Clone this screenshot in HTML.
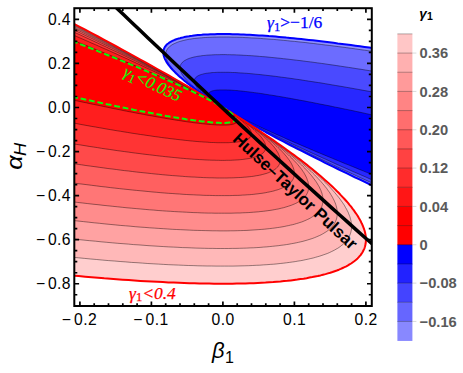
<!DOCTYPE html>
<html><head><meta charset="utf-8"><title>plot</title>
<style>html,body{margin:0;padding:0;background:#fff;}body{width:463px;height:373px;position:relative;overflow:hidden;font-family:"Liberation Sans",sans-serif;}</style>
</head><body>
<svg width="463" height="373" viewBox="0 0 463 373" style="position:absolute;left:0;top:0;font-family:'Liberation Sans',sans-serif">
<defs><clipPath id="pc"><rect x="74.3" y="8.2" width="297.5" height="297.8"/></clipPath></defs>
<rect x="0" y="0" width="463" height="373" fill="#fff"/>
<g clip-path="url(#pc)">
<path d="M72.2 275.5 L78.7 276.1 L85.2 276.7 L91.6 277.2 L98.0 277.7 L104.2 278.3 L110.4 278.7 L116.5 279.2 L122.6 279.7 L128.6 280.1 L134.5 280.5 L140.3 280.9 L146.0 281.2 L151.7 281.5 L157.3 281.8 L162.8 282.1 L168.3 282.4 L173.7 282.6 L179.0 282.8 L184.2 283.0 L189.3 283.2 L194.4 283.3 L199.4 283.5 L204.4 283.6 L209.2 283.6 L214.0 283.7 L218.7 283.7 L223.3 283.7 L227.9 283.7 L232.4 283.7 L236.8 283.6 L241.1 283.5 L245.4 283.4 L249.6 283.3 L253.7 283.2 L257.8 283.0 L261.7 282.8 L265.6 282.6 L269.4 282.3 L273.2 282.1 L276.9 281.8 L280.5 281.5 L284.0 281.1 L287.4 280.8 L290.8 280.4 L294.1 280.0 L297.3 279.6 L300.5 279.1 L303.6 278.7 L306.6 278.2 L309.5 277.6 L312.4 277.1 L315.1 276.5 L317.8 276.0 L320.5 275.4 L323.0 274.7 L325.5 274.1 L327.9 273.4 L330.3 272.7 L332.5 272.0 L334.7 271.2 L336.8 270.5 L338.9 269.7 L340.8 268.9 L342.7 268.0 L344.5 267.2 L346.3 266.3 L348.0 265.4 L349.5 264.4 L351.1 263.5 L352.5 262.5 L353.9 261.5 L355.2 260.5 L356.4 259.5 L357.6 258.4 L358.6 257.3 L359.6 256.2 L360.6 255.1 L361.4 253.9 L362.2 252.7 L362.9 251.5 L363.5 250.3 L364.1 249.1 L364.6 247.8 L365.0 246.5 L365.3 245.2 L365.6 243.8 L365.8 242.5 L365.9 241.1 L365.9 239.7 L365.9 238.2 L365.8 236.8 L365.6 235.3 L365.3 233.8 L365.0 232.3 L364.6 230.8 L364.1 229.2 L363.5 227.6 L362.9 226.0 L362.2 224.3 L361.4 222.7 L360.6 221.0 L359.6 219.3 L358.6 217.6 L357.6 215.8 L356.4 214.0 L355.2 212.3 L353.9 210.4 L352.5 208.6 L351.1 206.7 L349.5 204.8 L348.0 202.9 L346.3 201.0 L344.5 199.0 L342.7 197.1 L340.8 195.1 L338.9 193.0 L336.8 191.0 L334.7 188.9 L332.5 186.8 L330.3 184.7 L327.9 182.6 L325.5 180.4 L323.0 178.2 L320.5 176.0 L317.8 173.8 L315.1 171.5 L312.4 169.3 L309.5 167.0 L306.6 164.6 L303.6 162.3 L300.5 159.9 L297.3 157.5 L294.1 155.1 L290.8 152.7 L287.4 150.2 L284.0 147.7 L280.5 145.2 L276.9 142.7 L273.2 140.2 L269.4 137.6 L265.6 135.0 L261.7 132.4 L257.8 129.7 L253.7 127.1 L249.6 124.4 L245.4 121.7 L241.1 118.9 L236.8 116.2 L232.4 113.4 L227.9 110.6 L223.3 107.8 L218.7 104.9 L214.0 102.1 L209.2 99.2 L204.4 96.2 L199.4 93.3 L194.4 90.3 L189.3 87.4 L184.2 84.4 L179.0 81.3 L173.7 78.3 L168.3 75.2 L162.8 72.1 L157.3 69.0 L151.7 65.8 L146.0 62.7 L140.3 59.5 L134.5 56.3 L128.6 53.0 L122.6 49.8 L116.5 46.5 L110.4 43.2 L104.2 39.9 L98.0 36.5 L91.6 33.1 L85.2 29.7 L78.7 26.3 L72.2 22.9Z" fill="rgb(255,206,206)"/>
<path d="M72.2 257.2 L78.4 257.8 L84.6 258.4 L90.7 259.0 L96.7 259.5 L102.7 260.1 L108.6 260.6 L114.4 261.0 L120.1 261.5 L125.8 261.9 L131.4 262.4 L137.0 262.7 L142.4 263.1 L147.8 263.5 L153.2 263.8 L158.4 264.1 L163.6 264.4 L168.7 264.7 L173.8 264.9 L178.7 265.1 L183.6 265.3 L188.5 265.5 L193.2 265.6 L197.9 265.8 L202.5 265.9 L207.1 266.0 L211.6 266.0 L216.0 266.1 L220.3 266.1 L224.6 266.1 L228.8 266.1 L232.9 266.1 L237.0 266.0 L241.0 265.9 L244.9 265.8 L248.7 265.7 L252.5 265.5 L256.2 265.3 L259.8 265.2 L263.4 264.9 L266.9 264.7 L270.3 264.4 L273.7 264.2 L276.9 263.9 L280.2 263.5 L283.3 263.2 L286.4 262.8 L289.4 262.4 L292.3 262.0 L295.2 261.6 L297.9 261.1 L300.7 260.7 L303.3 260.2 L305.9 259.6 L308.4 259.1 L310.8 258.5 L313.2 258.0 L315.5 257.3 L317.7 256.7 L319.8 256.1 L321.9 255.4 L323.9 254.7 L325.9 254.0 L327.8 253.3 L329.6 252.5 L331.3 251.7 L332.9 250.9 L334.5 250.1 L336.0 249.2 L337.5 248.4 L338.9 247.5 L340.2 246.6 L341.4 245.6 L342.6 244.7 L343.7 243.7 L344.7 242.7 L345.6 241.7 L346.5 240.7 L347.3 239.6 L348.1 238.5 L348.7 237.4 L349.3 236.3 L349.9 235.1 L350.3 233.9 L350.7 232.8 L351.0 231.5 L351.3 230.3 L351.5 229.0 L351.6 227.8 L351.6 226.5 L351.6 225.1 L351.5 223.8 L351.3 222.4 L351.0 221.0 L350.7 219.6 L350.3 218.2 L349.9 216.7 L349.3 215.3 L348.7 213.8 L348.1 212.2 L347.3 210.7 L346.5 209.1 L345.6 207.6 L344.7 205.9 L343.7 204.3 L342.6 202.7 L341.4 201.0 L340.2 199.3 L338.9 197.6 L337.5 195.9 L336.0 194.1 L334.5 192.3 L332.9 190.5 L331.3 188.7 L329.6 186.8 L327.8 185.0 L325.9 183.1 L323.9 181.2 L321.9 179.2 L319.8 177.3 L317.7 175.3 L315.5 173.3 L313.2 171.3 L310.8 169.3 L308.4 167.2 L305.9 165.1 L303.3 163.0 L300.7 160.9 L297.9 158.7 L295.2 156.5 L292.3 154.4 L289.4 152.1 L286.4 149.9 L283.3 147.6 L280.2 145.4 L276.9 143.1 L273.7 140.7 L270.3 138.4 L266.9 136.0 L263.4 133.6 L259.8 131.2 L256.2 128.8 L252.5 126.3 L248.7 123.9 L244.9 121.4 L241.0 118.8 L237.0 116.3 L232.9 113.7 L228.8 111.2 L224.6 108.5 L220.3 105.9 L216.0 103.3 L211.6 100.6 L207.1 97.9 L202.5 95.2 L197.9 92.5 L193.2 89.7 L188.5 86.9 L183.6 84.1 L178.7 81.3 L173.8 78.4 L168.7 75.6 L163.6 72.7 L158.4 69.8 L153.2 66.8 L147.8 63.9 L142.4 60.9 L137.0 57.9 L131.4 54.9 L125.8 51.8 L120.1 48.8 L114.4 45.7 L108.6 42.6 L102.7 39.5 L96.7 36.3 L90.7 33.1 L84.6 30.0 L78.4 26.7 L72.2 23.5Z" fill="rgb(255,184,184)"/>
<path d="M72.2 238.9 L78.1 239.5 L83.9 240.1 L89.7 240.7 L95.5 241.2 L101.1 241.8 L106.7 242.3 L112.2 242.8 L117.7 243.3 L123.1 243.7 L128.4 244.1 L133.6 244.6 L138.8 244.9 L144.0 245.3 L149.0 245.7 L154.0 246.0 L158.9 246.3 L163.8 246.6 L168.6 246.9 L173.3 247.1 L177.9 247.3 L182.5 247.6 L187.0 247.7 L191.5 247.9 L195.9 248.1 L200.2 248.2 L204.4 248.3 L208.6 248.4 L212.7 248.4 L216.8 248.5 L220.8 248.5 L224.7 248.5 L228.5 248.5 L232.3 248.4 L236.0 248.4 L239.7 248.3 L243.3 248.2 L246.8 248.1 L250.2 247.9 L253.6 247.8 L256.9 247.6 L260.2 247.4 L263.4 247.1 L266.5 246.9 L269.5 246.6 L272.5 246.3 L275.4 246.0 L278.3 245.7 L281.0 245.3 L283.7 245.0 L286.4 244.6 L289.0 244.2 L291.5 243.7 L293.9 243.3 L296.3 242.8 L298.6 242.3 L300.8 241.8 L303.0 241.3 L305.1 240.7 L307.2 240.1 L309.1 239.5 L311.1 238.9 L312.9 238.3 L314.7 237.6 L316.4 236.9 L318.0 236.2 L319.6 235.5 L321.1 234.8 L322.5 234.0 L323.9 233.2 L325.2 232.4 L326.5 231.6 L327.6 230.8 L328.7 229.9 L329.8 229.0 L330.7 228.1 L331.6 227.2 L332.5 226.2 L333.2 225.3 L334.0 224.3 L334.6 223.3 L335.2 222.2 L335.7 221.2 L336.1 220.1 L336.5 219.0 L336.8 217.9 L337.0 216.8 L337.2 215.6 L337.3 214.4 L337.3 213.2 L337.3 212.0 L337.2 210.8 L337.0 209.5 L336.8 208.3 L336.5 207.0 L336.1 205.6 L335.7 204.3 L335.2 202.9 L334.6 201.6 L334.0 200.2 L333.2 198.7 L332.5 197.3 L331.6 195.8 L330.7 194.3 L329.8 192.8 L328.7 191.3 L327.6 189.8 L326.5 188.2 L325.2 186.6 L323.9 185.0 L322.5 183.4 L321.1 181.7 L319.6 180.1 L318.0 178.4 L316.4 176.7 L314.7 174.9 L312.9 173.2 L311.1 171.4 L309.1 169.6 L307.2 167.8 L305.1 166.0 L303.0 164.1 L300.8 162.2 L298.6 160.3 L296.3 158.4 L293.9 156.5 L291.5 154.5 L289.0 152.5 L286.4 150.5 L283.7 148.5 L281.0 146.5 L278.3 144.4 L275.4 142.3 L272.5 140.2 L269.5 138.1 L266.5 135.9 L263.4 133.8 L260.2 131.6 L256.9 129.4 L253.6 127.2 L250.2 124.9 L246.8 122.7 L243.3 120.4 L239.7 118.1 L236.0 115.7 L232.3 113.4 L228.5 111.0 L224.7 108.6 L220.8 106.2 L216.8 103.8 L212.7 101.3 L208.6 98.8 L204.4 96.3 L200.2 93.8 L195.9 91.3 L191.5 88.7 L187.0 86.2 L182.5 83.6 L177.9 80.9 L173.3 78.3 L168.6 75.6 L163.8 73.0 L158.9 70.3 L154.0 67.5 L149.0 64.8 L144.0 62.0 L138.8 59.2 L133.6 56.4 L128.4 53.6 L123.1 50.8 L117.7 47.9 L112.2 45.0 L106.7 42.1 L101.1 39.2 L95.5 36.2 L89.7 33.3 L83.9 30.3 L78.1 27.3 L72.2 24.2Z" fill="rgb(255,162,162)"/>
<path d="M72.2 220.4 L77.8 221.0 L83.3 221.6 L88.8 222.2 L94.2 222.8 L99.5 223.3 L104.8 223.9 L110.1 224.4 L115.2 224.9 L120.3 225.4 L125.4 225.8 L130.3 226.2 L135.2 226.7 L140.1 227.1 L144.9 227.4 L149.6 227.8 L154.2 228.1 L158.8 228.4 L163.4 228.7 L167.8 229.0 L172.2 229.3 L176.6 229.5 L180.8 229.7 L185.1 229.9 L189.2 230.1 L193.3 230.3 L197.3 230.4 L201.3 230.5 L205.2 230.6 L209.0 230.7 L212.8 230.8 L216.5 230.8 L220.1 230.9 L223.7 230.9 L227.2 230.9 L230.7 230.8 L234.0 230.8 L237.4 230.7 L240.6 230.6 L243.8 230.5 L247.0 230.4 L250.0 230.2 L253.0 230.0 L256.0 229.8 L258.9 229.6 L261.7 229.4 L264.4 229.2 L267.1 228.9 L269.8 228.6 L272.3 228.3 L274.8 228.0 L277.3 227.6 L279.6 227.3 L282.0 226.9 L284.2 226.5 L286.4 226.0 L288.5 225.6 L290.6 225.1 L292.6 224.7 L294.5 224.2 L296.4 223.6 L298.2 223.1 L299.9 222.5 L301.6 222.0 L303.2 221.4 L304.8 220.7 L306.2 220.1 L307.7 219.4 L309.0 218.8 L310.3 218.1 L311.6 217.3 L312.7 216.6 L313.8 215.9 L314.9 215.1 L315.9 214.3 L316.8 213.5 L317.6 212.6 L318.4 211.8 L319.2 210.9 L319.8 210.0 L320.4 209.1 L321.0 208.2 L321.4 207.2 L321.9 206.3 L322.2 205.3 L322.5 204.3 L322.7 203.2 L322.9 202.2 L323.0 201.1 L323.0 200.0 L323.0 198.9 L322.9 197.8 L322.7 196.6 L322.5 195.5 L322.2 194.3 L321.9 193.1 L321.4 191.9 L321.0 190.6 L320.4 189.4 L319.8 188.1 L319.2 186.8 L318.4 185.5 L317.6 184.1 L316.8 182.8 L315.9 181.4 L314.9 180.0 L313.8 178.6 L312.7 177.1 L311.6 175.7 L310.3 174.2 L309.0 172.7 L307.7 171.2 L306.2 169.6 L304.8 168.1 L303.2 166.5 L301.6 164.9 L299.9 163.3 L298.2 161.7 L296.4 160.0 L294.5 158.3 L292.6 156.6 L290.6 154.9 L288.5 153.2 L286.4 151.4 L284.2 149.7 L282.0 147.9 L279.6 146.1 L277.3 144.2 L274.8 142.4 L272.3 140.5 L269.8 138.6 L267.1 136.7 L264.4 134.8 L261.7 132.9 L258.9 130.9 L256.0 128.9 L253.0 126.9 L250.0 124.9 L247.0 122.8 L243.8 120.8 L240.6 118.7 L237.4 116.6 L234.0 114.5 L230.7 112.3 L227.2 110.2 L223.7 108.0 L220.1 105.8 L216.5 103.6 L212.8 101.3 L209.0 99.1 L205.2 96.8 L201.3 94.5 L197.3 92.2 L193.3 89.8 L189.2 87.5 L185.1 85.1 L180.8 82.7 L176.6 80.3 L172.2 77.9 L167.8 75.4 L163.4 72.9 L158.8 70.4 L154.2 67.9 L149.6 65.4 L144.9 62.9 L140.1 60.3 L135.2 57.7 L130.3 55.1 L125.4 52.5 L120.3 49.8 L115.2 47.1 L110.1 44.5 L104.8 41.7 L99.5 39.0 L94.2 36.3 L88.8 33.5 L83.3 30.7 L77.8 27.9 L72.2 25.1Z" fill="rgb(255,140,140)"/>
<path d="M72.2 201.7 L77.4 202.4 L82.7 203.0 L87.8 203.6 L92.9 204.2 L98.0 204.7 L103.0 205.3 L107.9 205.8 L112.8 206.3 L117.6 206.8 L122.3 207.3 L127.0 207.8 L131.6 208.2 L136.2 208.6 L140.7 209.0 L145.2 209.4 L149.6 209.8 L153.9 210.1 L158.2 210.5 L162.4 210.8 L166.5 211.1 L170.6 211.3 L174.6 211.6 L178.6 211.8 L182.5 212.0 L186.4 212.2 L190.2 212.4 L193.9 212.6 L197.6 212.7 L201.2 212.9 L204.7 213.0 L208.2 213.1 L211.7 213.1 L215.0 213.2 L218.4 213.2 L221.6 213.2 L224.8 213.2 L228.0 213.2 L231.0 213.2 L234.0 213.1 L237.0 213.0 L239.9 213.0 L242.7 212.8 L245.5 212.7 L248.2 212.6 L250.9 212.4 L253.5 212.2 L256.0 212.0 L258.5 211.8 L260.9 211.5 L263.3 211.3 L265.6 211.0 L267.8 210.7 L270.0 210.4 L272.1 210.1 L274.2 209.7 L276.2 209.3 L278.1 209.0 L280.0 208.5 L281.8 208.1 L283.6 207.7 L285.3 207.2 L286.9 206.7 L288.5 206.2 L290.0 205.7 L291.5 205.2 L292.9 204.6 L294.2 204.1 L295.5 203.5 L296.8 202.9 L297.9 202.2 L299.0 201.6 L300.1 200.9 L301.1 200.2 L302.0 199.5 L302.8 198.8 L303.7 198.1 L304.4 197.3 L305.1 196.5 L305.7 195.8 L306.3 194.9 L306.8 194.1 L307.2 193.3 L307.6 192.4 L308.0 191.5 L308.2 190.6 L308.4 189.7 L308.6 188.7 L308.7 187.8 L308.7 186.8 L308.7 185.8 L308.6 184.8 L308.4 183.8 L308.2 182.7 L308.0 181.6 L307.6 180.6 L307.2 179.5 L306.8 178.3 L306.3 177.2 L305.7 176.0 L305.1 174.8 L304.4 173.6 L303.7 172.4 L302.8 171.2 L302.0 169.9 L301.1 168.7 L300.1 167.4 L299.0 166.1 L297.9 164.7 L296.8 163.4 L295.5 162.0 L294.2 160.7 L292.9 159.3 L291.5 157.8 L290.0 156.4 L288.5 154.9 L286.9 153.5 L285.3 152.0 L283.6 150.5 L281.8 148.9 L280.0 147.4 L278.1 145.8 L276.2 144.2 L274.2 142.6 L272.1 141.0 L270.0 139.4 L267.8 137.7 L265.6 136.0 L263.3 134.3 L260.9 132.6 L258.5 130.9 L256.0 129.1 L253.5 127.4 L250.9 125.6 L248.2 123.8 L245.5 122.0 L242.7 120.1 L239.9 118.3 L237.0 116.4 L234.0 114.5 L231.0 112.6 L228.0 110.6 L224.8 108.7 L221.6 106.7 L218.4 104.7 L215.0 102.7 L211.7 100.7 L208.2 98.6 L204.7 96.6 L201.2 94.5 L197.6 92.4 L193.9 90.3 L190.2 88.1 L186.4 86.0 L182.5 83.8 L178.6 81.6 L174.6 79.4 L170.6 77.2 L166.5 74.9 L162.4 72.7 L158.2 70.4 L153.9 68.1 L149.6 65.8 L145.2 63.4 L140.7 61.1 L136.2 58.7 L131.6 56.3 L127.0 53.9 L122.3 51.5 L117.6 49.0 L112.8 46.5 L107.9 44.1 L103.0 41.6 L98.0 39.0 L92.9 36.5 L87.8 33.9 L82.7 31.3 L77.4 28.8 L72.2 26.1Z" fill="rgb(255,118,118)"/>
<path d="M72.2 182.8 L77.1 183.5 L82.0 184.1 L86.9 184.7 L91.7 185.3 L96.4 185.9 L101.1 186.5 L105.7 187.0 L110.3 187.6 L114.8 188.1 L119.3 188.6 L123.7 189.1 L128.0 189.5 L132.3 190.0 L136.6 190.4 L140.8 190.8 L144.9 191.2 L148.9 191.6 L153.0 192.0 L156.9 192.3 L160.8 192.7 L164.7 193.0 L168.4 193.3 L172.2 193.5 L175.9 193.8 L179.5 194.0 L183.0 194.3 L186.5 194.5 L190.0 194.7 L193.4 194.8 L196.7 195.0 L200.0 195.1 L203.2 195.3 L206.4 195.4 L209.5 195.4 L212.6 195.5 L215.6 195.6 L218.5 195.6 L221.4 195.6 L224.3 195.6 L227.0 195.6 L229.8 195.6 L232.4 195.5 L235.0 195.4 L237.6 195.4 L240.1 195.3 L242.5 195.1 L244.9 195.0 L247.2 194.8 L249.5 194.7 L251.7 194.5 L253.9 194.3 L256.0 194.0 L258.0 193.8 L260.0 193.5 L262.0 193.3 L263.8 193.0 L265.7 192.7 L267.4 192.3 L269.1 192.0 L270.8 191.6 L272.4 191.3 L273.9 190.9 L275.4 190.4 L276.9 190.0 L278.2 189.6 L279.6 189.1 L280.8 188.6 L282.0 188.1 L283.2 187.6 L284.3 187.1 L285.3 186.5 L286.3 185.9 L287.2 185.3 L288.1 184.7 L288.9 184.1 L289.7 183.5 L290.4 182.8 L291.0 182.1 L291.6 181.5 L292.1 180.7 L292.6 180.0 L293.0 179.3 L293.4 178.5 L293.7 177.7 L294.0 176.9 L294.1 176.1 L294.3 175.3 L294.4 174.5 L294.4 173.6 L294.4 172.7 L294.3 171.8 L294.1 170.9 L294.0 170.0 L293.7 169.0 L293.4 168.0 L293.0 167.1 L292.6 166.1 L292.1 165.0 L291.6 164.0 L291.0 162.9 L290.4 161.9 L289.7 160.8 L288.9 159.7 L288.1 158.6 L287.2 157.4 L286.3 156.3 L285.3 155.1 L284.3 153.9 L283.2 152.7 L282.0 151.4 L280.8 150.2 L279.6 148.9 L278.2 147.7 L276.9 146.4 L275.4 145.1 L273.9 143.7 L272.4 142.4 L270.8 141.0 L269.1 139.6 L267.4 138.2 L265.7 136.8 L263.8 135.4 L262.0 133.9 L260.0 132.5 L258.0 131.0 L256.0 129.5 L253.9 127.9 L251.7 126.4 L249.5 124.8 L247.2 123.3 L244.9 121.7 L242.5 120.1 L240.1 118.5 L237.6 116.8 L235.0 115.1 L232.4 113.5 L229.8 111.8 L227.0 110.1 L224.3 108.3 L221.4 106.6 L218.5 104.8 L215.6 103.0 L212.6 101.2 L209.5 99.4 L206.4 97.6 L203.2 95.8 L200.0 93.9 L196.7 92.0 L193.4 90.1 L190.0 88.2 L186.5 86.2 L183.0 84.3 L179.5 82.3 L175.9 80.3 L172.2 78.3 L168.4 76.3 L164.7 74.3 L160.8 72.2 L156.9 70.1 L153.0 68.0 L148.9 65.9 L144.9 63.8 L140.8 61.7 L136.6 59.5 L132.3 57.3 L128.0 55.1 L123.7 52.9 L119.3 50.7 L114.8 48.4 L110.3 46.2 L105.7 43.9 L101.1 41.6 L96.4 39.3 L91.7 36.9 L86.9 34.6 L82.0 32.2 L77.1 29.8 L72.2 27.4Z" fill="rgb(255,96,96)"/>
<path d="M72.2 163.5 L76.8 164.2 L81.4 164.8 L85.9 165.5 L90.4 166.1 L94.9 166.7 L99.2 167.3 L103.6 167.9 L107.9 168.5 L112.1 169.0 L116.3 169.5 L120.4 170.1 L124.4 170.6 L128.5 171.0 L132.4 171.5 L136.3 172.0 L140.2 172.4 L144.0 172.8 L147.8 173.2 L151.5 173.6 L155.1 174.0 L158.7 174.3 L162.3 174.7 L165.7 175.0 L169.2 175.3 L172.6 175.6 L175.9 175.8 L179.2 176.1 L182.4 176.3 L185.6 176.6 L188.7 176.8 L191.8 177.0 L194.8 177.1 L197.8 177.3 L200.7 177.4 L203.5 177.6 L206.4 177.7 L209.1 177.8 L211.8 177.8 L214.5 177.9 L217.1 178.0 L219.6 178.0 L222.1 178.0 L224.5 178.0 L226.9 178.0 L229.3 177.9 L231.6 177.9 L233.8 177.8 L236.0 177.7 L238.1 177.6 L240.2 177.5 L242.2 177.4 L244.2 177.2 L246.1 177.1 L247.9 176.9 L249.8 176.7 L251.5 176.5 L253.2 176.3 L254.9 176.0 L256.5 175.7 L258.0 175.5 L259.5 175.2 L261.0 174.9 L262.4 174.5 L263.7 174.2 L265.0 173.8 L266.2 173.5 L267.4 173.1 L268.5 172.7 L269.6 172.2 L270.6 171.8 L271.6 171.3 L272.5 170.9 L273.4 170.4 L274.2 169.9 L275.0 169.4 L275.7 168.8 L276.3 168.3 L276.9 167.7 L277.5 167.1 L278.0 166.5 L278.4 165.9 L278.8 165.3 L279.2 164.6 L279.4 163.9 L279.7 163.3 L279.9 162.6 L280.0 161.8 L280.1 161.1 L280.1 160.4 L280.1 159.6 L280.0 158.8 L279.9 158.0 L279.7 157.2 L279.4 156.4 L279.2 155.6 L278.8 154.7 L278.4 153.8 L278.0 152.9 L277.5 152.0 L276.9 151.1 L276.3 150.1 L275.7 149.2 L275.0 148.2 L274.2 147.2 L273.4 146.2 L272.5 145.2 L271.6 144.2 L270.6 143.1 L269.6 142.0 L268.5 140.9 L267.4 139.8 L266.2 138.7 L265.0 137.6 L263.7 136.4 L262.4 135.3 L261.0 134.1 L259.5 132.9 L258.0 131.7 L256.5 130.4 L254.9 129.2 L253.2 127.9 L251.5 126.6 L249.8 125.3 L247.9 124.0 L246.1 122.7 L244.2 121.4 L242.2 120.0 L240.2 118.6 L238.1 117.2 L236.0 115.8 L233.8 114.4 L231.6 112.9 L229.3 111.5 L226.9 110.0 L224.5 108.5 L222.1 107.0 L219.6 105.5 L217.1 103.9 L214.5 102.4 L211.8 100.8 L209.1 99.2 L206.4 97.6 L203.5 96.0 L200.7 94.4 L197.8 92.7 L194.8 91.0 L191.8 89.4 L188.7 87.7 L185.6 85.9 L182.4 84.2 L179.2 82.5 L175.9 80.7 L172.6 78.9 L169.2 77.1 L165.7 75.3 L162.3 73.5 L158.7 71.6 L155.1 69.8 L151.5 67.9 L147.8 66.0 L144.0 64.1 L140.2 62.1 L136.3 60.2 L132.4 58.2 L128.5 56.3 L124.4 54.3 L120.4 52.3 L116.3 50.2 L112.1 48.2 L107.9 46.1 L103.6 44.1 L99.2 42.0 L94.9 39.9 L90.4 37.7 L85.9 35.6 L81.4 33.5 L76.8 31.3 L72.2 29.1Z" fill="rgb(255,74,74)"/>
<path d="M72.2 143.7 L76.5 144.4 L80.8 145.0 L85.0 145.7 L89.2 146.4 L93.3 147.0 L97.4 147.6 L101.4 148.3 L105.4 148.9 L109.3 149.4 L113.2 150.0 L117.1 150.6 L120.9 151.1 L124.6 151.6 L128.3 152.1 L131.9 152.6 L135.5 153.1 L139.1 153.5 L142.6 154.0 L146.0 154.4 L149.4 154.8 L152.8 155.2 L156.1 155.6 L159.3 156.0 L162.5 156.3 L165.7 156.7 L168.8 157.0 L171.8 157.3 L174.8 157.6 L177.8 157.9 L180.7 158.2 L183.6 158.4 L186.4 158.7 L189.1 158.9 L191.8 159.1 L194.5 159.3 L197.1 159.4 L199.7 159.6 L202.2 159.7 L204.7 159.9 L207.1 160.0 L209.5 160.1 L211.8 160.2 L214.1 160.2 L216.3 160.3 L218.5 160.3 L220.6 160.4 L222.7 160.4 L224.7 160.4 L226.7 160.3 L228.6 160.3 L230.5 160.3 L232.3 160.2 L234.1 160.1 L235.9 160.0 L237.5 159.9 L239.2 159.8 L240.8 159.6 L242.3 159.5 L243.8 159.3 L245.2 159.1 L246.6 158.9 L248.0 158.7 L249.3 158.5 L250.5 158.2 L251.7 158.0 L252.9 157.7 L254.0 157.4 L255.0 157.1 L256.0 156.8 L257.0 156.4 L257.9 156.1 L258.7 155.7 L259.5 155.3 L260.3 154.9 L261.0 154.5 L261.7 154.1 L262.3 153.6 L262.8 153.2 L263.4 152.7 L263.8 152.2 L264.2 151.7 L264.6 151.2 L264.9 150.7 L265.2 150.1 L265.4 149.6 L265.6 149.0 L265.7 148.4 L265.8 147.8 L265.8 147.2 L265.8 146.5 L265.7 145.9 L265.6 145.2 L265.4 144.5 L265.2 143.8 L264.9 143.1 L264.6 142.4 L264.2 141.6 L263.8 140.9 L263.4 140.1 L262.8 139.3 L262.3 138.5 L261.7 137.7 L261.0 136.8 L260.3 136.0 L259.5 135.1 L258.7 134.2 L257.9 133.4 L257.0 132.4 L256.0 131.5 L255.0 130.6 L254.0 129.6 L252.9 128.7 L251.7 127.7 L250.5 126.7 L249.3 125.7 L248.0 124.6 L246.6 123.6 L245.2 122.5 L243.8 121.4 L242.3 120.4 L240.8 119.2 L239.2 118.1 L237.5 117.0 L235.9 115.8 L234.1 114.7 L232.3 113.5 L230.5 112.3 L228.6 111.1 L226.7 109.9 L224.7 108.6 L222.7 107.4 L220.6 106.1 L218.5 104.8 L216.3 103.5 L214.1 102.2 L211.8 100.9 L209.5 99.5 L207.1 98.1 L204.7 96.8 L202.2 95.4 L199.7 94.0 L197.1 92.5 L194.5 91.1 L191.8 89.7 L189.1 88.2 L186.4 86.7 L183.6 85.2 L180.7 83.7 L177.8 82.2 L174.8 80.6 L171.8 79.1 L168.8 77.5 L165.7 75.9 L162.5 74.3 L159.3 72.7 L156.1 71.1 L152.8 69.4 L149.4 67.7 L146.0 66.1 L142.6 64.4 L139.1 62.7 L135.5 60.9 L131.9 59.2 L128.3 57.5 L124.6 55.7 L120.9 53.9 L117.1 52.1 L113.2 50.3 L109.3 48.5 L105.4 46.6 L101.4 44.8 L97.4 42.9 L93.3 41.0 L89.2 39.1 L85.0 37.2 L80.8 35.2 L76.5 33.3 L72.2 31.3Z" fill="rgb(255,52,52)"/>
<path d="M72.2 122.8 L76.2 123.5 L80.1 124.3 L84.0 125.0 L87.9 125.7 L91.7 126.4 L95.5 127.0 L99.3 127.7 L102.9 128.3 L106.6 129.0 L110.2 129.6 L113.7 130.2 L117.3 130.8 L120.7 131.3 L124.1 131.9 L127.5 132.4 L130.8 133.0 L134.1 133.5 L137.4 134.0 L140.6 134.5 L143.7 134.9 L146.8 135.4 L149.9 135.8 L152.9 136.3 L155.8 136.7 L158.8 137.1 L161.6 137.5 L164.5 137.9 L167.3 138.2 L170.0 138.6 L172.7 138.9 L175.3 139.2 L177.9 139.5 L180.5 139.8 L183.0 140.1 L185.5 140.4 L187.9 140.6 L190.3 140.9 L192.6 141.1 L194.9 141.3 L197.1 141.5 L199.3 141.7 L201.5 141.8 L203.6 142.0 L205.7 142.1 L207.7 142.2 L209.6 142.4 L211.6 142.5 L213.4 142.5 L215.3 142.6 L217.1 142.7 L218.8 142.7 L220.5 142.7 L222.2 142.7 L223.8 142.7 L225.3 142.7 L226.8 142.7 L228.3 142.7 L229.7 142.6 L231.1 142.5 L232.5 142.4 L233.7 142.4 L235.0 142.2 L236.2 142.1 L237.3 142.0 L238.5 141.8 L239.5 141.7 L240.5 141.5 L241.5 141.3 L242.4 141.1 L243.3 140.8 L244.2 140.6 L245.0 140.3 L245.7 140.1 L246.4 139.8 L247.1 139.5 L247.7 139.2 L248.2 138.9 L248.8 138.5 L249.2 138.2 L249.7 137.8 L250.1 137.5 L250.4 137.1 L250.7 136.7 L250.9 136.2 L251.1 135.8 L251.3 135.4 L251.4 134.9 L251.5 134.4 L251.5 133.9 L251.5 133.4 L251.4 132.9 L251.3 132.4 L251.1 131.8 L250.9 131.3 L250.7 130.7 L250.4 130.1 L250.1 129.5 L249.7 128.9 L249.2 128.3 L248.8 127.6 L248.2 127.0 L247.7 126.3 L247.1 125.6 L246.4 124.9 L245.7 124.2 L245.0 123.5 L244.2 122.7 L243.3 122.0 L242.4 121.2 L241.5 120.4 L240.5 119.7 L239.5 118.8 L238.5 118.0 L237.3 117.2 L236.2 116.3 L235.0 115.5 L233.7 114.6 L232.5 113.7 L231.1 112.8 L229.7 111.9 L228.3 110.9 L226.8 110.0 L225.3 109.0 L223.8 108.0 L222.2 107.0 L220.5 106.0 L218.8 105.0 L217.1 104.0 L215.3 102.9 L213.4 101.9 L211.6 100.8 L209.6 99.7 L207.7 98.6 L205.7 97.5 L203.6 96.4 L201.5 95.2 L199.3 94.1 L197.1 92.9 L194.9 91.7 L192.6 90.5 L190.3 89.3 L187.9 88.1 L185.5 86.8 L183.0 85.6 L180.5 84.3 L177.9 83.0 L175.3 81.7 L172.7 80.4 L170.0 79.1 L167.3 77.7 L164.5 76.4 L161.6 75.0 L158.8 73.6 L155.8 72.2 L152.9 70.8 L149.9 69.4 L146.8 68.0 L143.7 66.5 L140.6 65.0 L137.4 63.6 L134.1 62.1 L130.8 60.6 L127.5 59.0 L124.1 57.5 L120.7 56.0 L117.3 54.4 L113.7 52.8 L110.2 51.2 L106.6 49.6 L102.9 48.0 L99.3 46.4 L95.5 44.7 L91.7 43.1 L87.9 41.4 L84.0 39.7 L80.1 38.0 L76.2 36.3 L72.2 34.5Z" fill="rgb(255,30,30)"/>
<path d="M72.2 99.8 L75.8 100.6 L79.5 101.4 L83.1 102.2 L86.7 102.9 L90.2 103.7 L93.7 104.4 L97.1 105.1 L100.5 105.8 L103.8 106.5 L107.2 107.2 L110.4 107.9 L113.7 108.6 L116.8 109.2 L120.0 109.8 L123.1 110.5 L126.2 111.1 L129.2 111.7 L132.2 112.2 L135.1 112.8 L138.0 113.4 L140.9 113.9 L143.7 114.4 L146.4 115.0 L149.2 115.5 L151.9 115.9 L154.5 116.4 L157.1 116.9 L159.7 117.3 L162.2 117.8 L164.7 118.2 L167.1 118.6 L169.5 119.0 L171.9 119.4 L174.2 119.8 L176.4 120.2 L178.7 120.5 L180.9 120.8 L183.0 121.2 L185.1 121.5 L187.2 121.8 L189.2 122.1 L191.2 122.3 L193.1 122.6 L195.0 122.9 L196.9 123.1 L198.7 123.3 L200.4 123.5 L202.2 123.7 L203.9 123.9 L205.5 124.1 L207.1 124.2 L208.7 124.4 L210.2 124.5 L211.7 124.6 L213.1 124.7 L214.5 124.8 L215.9 124.9 L217.2 125.0 L218.4 125.0 L219.7 125.1 L220.9 125.1 L222.0 125.1 L223.1 125.1 L224.2 125.1 L225.2 125.1 L226.2 125.1 L227.1 125.0 L228.0 125.0 L228.9 124.9 L229.7 124.8 L230.4 124.7 L231.2 124.6 L231.9 124.5 L232.5 124.3 L233.1 124.2 L233.7 124.0 L234.2 123.8 L234.7 123.6 L235.1 123.4 L235.5 123.2 L235.9 123.0 L236.2 122.8 L236.4 122.5 L236.7 122.2 L236.9 122.0 L237.0 121.7 L237.1 121.4 L237.2 121.0 L237.2 120.7 L237.2 120.4 L237.1 120.0 L237.0 119.7 L236.9 119.3 L236.7 118.9 L236.4 118.5 L236.2 118.0 L235.9 117.6 L235.5 117.2 L235.1 116.7 L234.7 116.2 L234.2 115.8 L233.7 115.3 L233.1 114.8 L232.5 114.2 L231.9 113.7 L231.2 113.1 L230.4 112.6 L229.7 112.0 L228.9 111.4 L228.0 110.8 L227.1 110.2 L226.2 109.6 L225.2 108.9 L224.2 108.3 L223.1 107.6 L222.0 107.0 L220.9 106.3 L219.7 105.6 L218.4 104.8 L217.2 104.1 L215.9 103.4 L214.5 102.6 L213.1 101.9 L211.7 101.1 L210.2 100.3 L208.7 99.5 L207.1 98.7 L205.5 97.8 L203.9 97.0 L202.2 96.1 L200.4 95.3 L198.7 94.4 L196.9 93.5 L195.0 92.6 L193.1 91.7 L191.2 90.7 L189.2 89.8 L187.2 88.8 L185.1 87.8 L183.0 86.9 L180.9 85.9 L178.7 84.9 L176.4 83.8 L174.2 82.8 L171.9 81.7 L169.5 80.7 L167.1 79.6 L164.7 78.5 L162.2 77.4 L159.7 76.3 L157.1 75.2 L154.5 74.0 L151.9 72.9 L149.2 71.7 L146.4 70.6 L143.7 69.4 L140.9 68.2 L138.0 66.9 L135.1 65.7 L132.2 64.5 L129.2 63.2 L126.2 62.0 L123.1 60.7 L120.0 59.4 L116.8 58.1 L113.7 56.8 L110.4 55.4 L107.2 54.1 L103.8 52.7 L100.5 51.4 L97.1 50.0 L93.7 48.6 L90.2 47.2 L86.7 45.7 L83.1 44.3 L79.5 42.9 L75.8 41.4 L72.2 39.9Z" fill="rgb(255,0,0)"/>
<path d="M72.2 99.8 L75.8 100.6 L79.5 101.4 L83.1 102.2 L86.7 102.9 L90.2 103.7 L93.7 104.4 L97.1 105.1 L100.5 105.8 L103.8 106.5 L107.2 107.2 L110.4 107.9 L113.7 108.6 L116.8 109.2 L120.0 109.8 L123.1 110.5 L126.2 111.1 L129.2 111.7 L132.2 112.2 L135.1 112.8 L138.0 113.4 L140.9 113.9 L143.7 114.4 L146.4 115.0 L149.2 115.5 L151.9 115.9 L154.5 116.4 L157.1 116.9 L159.7 117.3 L162.2 117.8 L164.7 118.2 L167.1 118.6 L169.5 119.0 L171.9 119.4 L174.2 119.8 L176.4 120.2 L178.7 120.5 L180.9 120.8 L183.0 121.2 L185.1 121.5 L187.2 121.8 L189.2 122.1 L191.2 122.3 L193.1 122.6 L195.0 122.9 L196.9 123.1 L198.7 123.3 L200.4 123.5 L202.2 123.7 L203.9 123.9 L205.5 124.1 L207.1 124.2 L208.7 124.4 L210.2 124.5 L211.7 124.6 L213.1 124.7 L214.5 124.8 L215.9 124.9 L217.2 125.0 L218.4 125.0 L219.7 125.1 L220.9 125.1 L222.0 125.1 L223.1 125.1 L224.2 125.1 L225.2 125.1 L226.2 125.1 L227.1 125.0 L228.0 125.0 L228.9 124.9 L229.7 124.8 L230.4 124.7 L231.2 124.6 L231.9 124.5 L232.5 124.3 L233.1 124.2 L233.7 124.0 L234.2 123.8 L234.7 123.6 L235.1 123.4 L235.5 123.2 L235.9 123.0 L236.2 122.8 L236.4 122.5 L236.7 122.2 L236.9 122.0 L237.0 121.7 L237.1 121.4 L237.2 121.0 L237.2 120.7 L237.2 120.4 L237.1 120.0 L237.0 119.7 L236.9 119.3 L236.7 118.9 L236.4 118.5 L236.2 118.0 L235.9 117.6 L235.5 117.2 L235.1 116.7 L234.7 116.2 L234.2 115.8 L233.7 115.3 L233.1 114.8 L232.5 114.2 L231.9 113.7 L231.2 113.1 L230.4 112.6 L229.7 112.0 L228.9 111.4 L228.0 110.8 L227.1 110.2 L226.2 109.6 L225.2 108.9 L224.2 108.3 L223.1 107.6 L222.0 107.0 L220.9 106.3 L219.7 105.6 L218.4 104.8 L217.2 104.1 L215.9 103.4 L214.5 102.6 L213.1 101.9 L211.7 101.1 L210.2 100.3 L208.7 99.5 L207.1 98.7 L205.5 97.8 L203.9 97.0 L202.2 96.1 L200.4 95.3 L198.7 94.4 L196.9 93.5 L195.0 92.6 L193.1 91.7 L191.2 90.7 L189.2 89.8 L187.2 88.8 L185.1 87.8 L183.0 86.9 L180.9 85.9 L178.7 84.9 L176.4 83.8 L174.2 82.8 L171.9 81.7 L169.5 80.7 L167.1 79.6 L164.7 78.5 L162.2 77.4 L159.7 76.3 L157.1 75.2 L154.5 74.0 L151.9 72.9 L149.2 71.7 L146.4 70.6 L143.7 69.4 L140.9 68.2 L138.0 66.9 L135.1 65.7 L132.2 64.5 L129.2 63.2 L126.2 62.0 L123.1 60.7 L120.0 59.4 L116.8 58.1 L113.7 56.8 L110.4 55.4 L107.2 54.1 L103.8 52.7 L100.5 51.4 L97.1 50.0 L93.7 48.6 L90.2 47.2 L86.7 45.7 L83.1 44.3 L79.5 42.9 L75.8 41.4 L72.2 39.9" fill="none" stroke="#000" stroke-opacity="0.6" stroke-width="0.7"/>
<path d="M72.2 122.8 L76.2 123.5 L80.1 124.3 L84.0 125.0 L87.9 125.7 L91.7 126.4 L95.5 127.0 L99.3 127.7 L102.9 128.3 L106.6 129.0 L110.2 129.6 L113.7 130.2 L117.3 130.8 L120.7 131.3 L124.1 131.9 L127.5 132.4 L130.8 133.0 L134.1 133.5 L137.4 134.0 L140.6 134.5 L143.7 134.9 L146.8 135.4 L149.9 135.8 L152.9 136.3 L155.8 136.7 L158.8 137.1 L161.6 137.5 L164.5 137.9 L167.3 138.2 L170.0 138.6 L172.7 138.9 L175.3 139.2 L177.9 139.5 L180.5 139.8 L183.0 140.1 L185.5 140.4 L187.9 140.6 L190.3 140.9 L192.6 141.1 L194.9 141.3 L197.1 141.5 L199.3 141.7 L201.5 141.8 L203.6 142.0 L205.7 142.1 L207.7 142.2 L209.6 142.4 L211.6 142.5 L213.4 142.5 L215.3 142.6 L217.1 142.7 L218.8 142.7 L220.5 142.7 L222.2 142.7 L223.8 142.7 L225.3 142.7 L226.8 142.7 L228.3 142.7 L229.7 142.6 L231.1 142.5 L232.5 142.4 L233.7 142.4 L235.0 142.2 L236.2 142.1 L237.3 142.0 L238.5 141.8 L239.5 141.7 L240.5 141.5 L241.5 141.3 L242.4 141.1 L243.3 140.8 L244.2 140.6 L245.0 140.3 L245.7 140.1 L246.4 139.8 L247.1 139.5 L247.7 139.2 L248.2 138.9 L248.8 138.5 L249.2 138.2 L249.7 137.8 L250.1 137.5 L250.4 137.1 L250.7 136.7 L250.9 136.2 L251.1 135.8 L251.3 135.4 L251.4 134.9 L251.5 134.4 L251.5 133.9 L251.5 133.4 L251.4 132.9 L251.3 132.4 L251.1 131.8 L250.9 131.3 L250.7 130.7 L250.4 130.1 L250.1 129.5 L249.7 128.9 L249.2 128.3 L248.8 127.6 L248.2 127.0 L247.7 126.3 L247.1 125.6 L246.4 124.9 L245.7 124.2 L245.0 123.5 L244.2 122.7 L243.3 122.0 L242.4 121.2 L241.5 120.4 L240.5 119.7 L239.5 118.8 L238.5 118.0 L237.3 117.2 L236.2 116.3 L235.0 115.5 L233.7 114.6 L232.5 113.7 L231.1 112.8 L229.7 111.9 L228.3 110.9 L226.8 110.0 L225.3 109.0 L223.8 108.0 L222.2 107.0 L220.5 106.0 L218.8 105.0 L217.1 104.0 L215.3 102.9 L213.4 101.9 L211.6 100.8 L209.6 99.7 L207.7 98.6 L205.7 97.5 L203.6 96.4 L201.5 95.2 L199.3 94.1 L197.1 92.9 L194.9 91.7 L192.6 90.5 L190.3 89.3 L187.9 88.1 L185.5 86.8 L183.0 85.6 L180.5 84.3 L177.9 83.0 L175.3 81.7 L172.7 80.4 L170.0 79.1 L167.3 77.7 L164.5 76.4 L161.6 75.0 L158.8 73.6 L155.8 72.2 L152.9 70.8 L149.9 69.4 L146.8 68.0 L143.7 66.5 L140.6 65.0 L137.4 63.6 L134.1 62.1 L130.8 60.6 L127.5 59.0 L124.1 57.5 L120.7 56.0 L117.3 54.4 L113.7 52.8 L110.2 51.2 L106.6 49.6 L102.9 48.0 L99.3 46.4 L95.5 44.7 L91.7 43.1 L87.9 41.4 L84.0 39.7 L80.1 38.0 L76.2 36.3 L72.2 34.5" fill="none" stroke="#000" stroke-opacity="0.6" stroke-width="0.7"/>
<path d="M72.2 143.7 L76.5 144.4 L80.8 145.0 L85.0 145.7 L89.2 146.4 L93.3 147.0 L97.4 147.6 L101.4 148.3 L105.4 148.9 L109.3 149.4 L113.2 150.0 L117.1 150.6 L120.9 151.1 L124.6 151.6 L128.3 152.1 L131.9 152.6 L135.5 153.1 L139.1 153.5 L142.6 154.0 L146.0 154.4 L149.4 154.8 L152.8 155.2 L156.1 155.6 L159.3 156.0 L162.5 156.3 L165.7 156.7 L168.8 157.0 L171.8 157.3 L174.8 157.6 L177.8 157.9 L180.7 158.2 L183.6 158.4 L186.4 158.7 L189.1 158.9 L191.8 159.1 L194.5 159.3 L197.1 159.4 L199.7 159.6 L202.2 159.7 L204.7 159.9 L207.1 160.0 L209.5 160.1 L211.8 160.2 L214.1 160.2 L216.3 160.3 L218.5 160.3 L220.6 160.4 L222.7 160.4 L224.7 160.4 L226.7 160.3 L228.6 160.3 L230.5 160.3 L232.3 160.2 L234.1 160.1 L235.9 160.0 L237.5 159.9 L239.2 159.8 L240.8 159.6 L242.3 159.5 L243.8 159.3 L245.2 159.1 L246.6 158.9 L248.0 158.7 L249.3 158.5 L250.5 158.2 L251.7 158.0 L252.9 157.7 L254.0 157.4 L255.0 157.1 L256.0 156.8 L257.0 156.4 L257.9 156.1 L258.7 155.7 L259.5 155.3 L260.3 154.9 L261.0 154.5 L261.7 154.1 L262.3 153.6 L262.8 153.2 L263.4 152.7 L263.8 152.2 L264.2 151.7 L264.6 151.2 L264.9 150.7 L265.2 150.1 L265.4 149.6 L265.6 149.0 L265.7 148.4 L265.8 147.8 L265.8 147.2 L265.8 146.5 L265.7 145.9 L265.6 145.2 L265.4 144.5 L265.2 143.8 L264.9 143.1 L264.6 142.4 L264.2 141.6 L263.8 140.9 L263.4 140.1 L262.8 139.3 L262.3 138.5 L261.7 137.7 L261.0 136.8 L260.3 136.0 L259.5 135.1 L258.7 134.2 L257.9 133.4 L257.0 132.4 L256.0 131.5 L255.0 130.6 L254.0 129.6 L252.9 128.7 L251.7 127.7 L250.5 126.7 L249.3 125.7 L248.0 124.6 L246.6 123.6 L245.2 122.5 L243.8 121.4 L242.3 120.4 L240.8 119.2 L239.2 118.1 L237.5 117.0 L235.9 115.8 L234.1 114.7 L232.3 113.5 L230.5 112.3 L228.6 111.1 L226.7 109.9 L224.7 108.6 L222.7 107.4 L220.6 106.1 L218.5 104.8 L216.3 103.5 L214.1 102.2 L211.8 100.9 L209.5 99.5 L207.1 98.1 L204.7 96.8 L202.2 95.4 L199.7 94.0 L197.1 92.5 L194.5 91.1 L191.8 89.7 L189.1 88.2 L186.4 86.7 L183.6 85.2 L180.7 83.7 L177.8 82.2 L174.8 80.6 L171.8 79.1 L168.8 77.5 L165.7 75.9 L162.5 74.3 L159.3 72.7 L156.1 71.1 L152.8 69.4 L149.4 67.7 L146.0 66.1 L142.6 64.4 L139.1 62.7 L135.5 60.9 L131.9 59.2 L128.3 57.5 L124.6 55.7 L120.9 53.9 L117.1 52.1 L113.2 50.3 L109.3 48.5 L105.4 46.6 L101.4 44.8 L97.4 42.9 L93.3 41.0 L89.2 39.1 L85.0 37.2 L80.8 35.2 L76.5 33.3 L72.2 31.3" fill="none" stroke="#000" stroke-opacity="0.6" stroke-width="0.7"/>
<path d="M72.2 163.5 L76.8 164.2 L81.4 164.8 L85.9 165.5 L90.4 166.1 L94.9 166.7 L99.2 167.3 L103.6 167.9 L107.9 168.5 L112.1 169.0 L116.3 169.5 L120.4 170.1 L124.4 170.6 L128.5 171.0 L132.4 171.5 L136.3 172.0 L140.2 172.4 L144.0 172.8 L147.8 173.2 L151.5 173.6 L155.1 174.0 L158.7 174.3 L162.3 174.7 L165.7 175.0 L169.2 175.3 L172.6 175.6 L175.9 175.8 L179.2 176.1 L182.4 176.3 L185.6 176.6 L188.7 176.8 L191.8 177.0 L194.8 177.1 L197.8 177.3 L200.7 177.4 L203.5 177.6 L206.4 177.7 L209.1 177.8 L211.8 177.8 L214.5 177.9 L217.1 178.0 L219.6 178.0 L222.1 178.0 L224.5 178.0 L226.9 178.0 L229.3 177.9 L231.6 177.9 L233.8 177.8 L236.0 177.7 L238.1 177.6 L240.2 177.5 L242.2 177.4 L244.2 177.2 L246.1 177.1 L247.9 176.9 L249.8 176.7 L251.5 176.5 L253.2 176.3 L254.9 176.0 L256.5 175.7 L258.0 175.5 L259.5 175.2 L261.0 174.9 L262.4 174.5 L263.7 174.2 L265.0 173.8 L266.2 173.5 L267.4 173.1 L268.5 172.7 L269.6 172.2 L270.6 171.8 L271.6 171.3 L272.5 170.9 L273.4 170.4 L274.2 169.9 L275.0 169.4 L275.7 168.8 L276.3 168.3 L276.9 167.7 L277.5 167.1 L278.0 166.5 L278.4 165.9 L278.8 165.3 L279.2 164.6 L279.4 163.9 L279.7 163.3 L279.9 162.6 L280.0 161.8 L280.1 161.1 L280.1 160.4 L280.1 159.6 L280.0 158.8 L279.9 158.0 L279.7 157.2 L279.4 156.4 L279.2 155.6 L278.8 154.7 L278.4 153.8 L278.0 152.9 L277.5 152.0 L276.9 151.1 L276.3 150.1 L275.7 149.2 L275.0 148.2 L274.2 147.2 L273.4 146.2 L272.5 145.2 L271.6 144.2 L270.6 143.1 L269.6 142.0 L268.5 140.9 L267.4 139.8 L266.2 138.7 L265.0 137.6 L263.7 136.4 L262.4 135.3 L261.0 134.1 L259.5 132.9 L258.0 131.7 L256.5 130.4 L254.9 129.2 L253.2 127.9 L251.5 126.6 L249.8 125.3 L247.9 124.0 L246.1 122.7 L244.2 121.4 L242.2 120.0 L240.2 118.6 L238.1 117.2 L236.0 115.8 L233.8 114.4 L231.6 112.9 L229.3 111.5 L226.9 110.0 L224.5 108.5 L222.1 107.0 L219.6 105.5 L217.1 103.9 L214.5 102.4 L211.8 100.8 L209.1 99.2 L206.4 97.6 L203.5 96.0 L200.7 94.4 L197.8 92.7 L194.8 91.0 L191.8 89.4 L188.7 87.7 L185.6 85.9 L182.4 84.2 L179.2 82.5 L175.9 80.7 L172.6 78.9 L169.2 77.1 L165.7 75.3 L162.3 73.5 L158.7 71.6 L155.1 69.8 L151.5 67.9 L147.8 66.0 L144.0 64.1 L140.2 62.1 L136.3 60.2 L132.4 58.2 L128.5 56.3 L124.4 54.3 L120.4 52.3 L116.3 50.2 L112.1 48.2 L107.9 46.1 L103.6 44.1 L99.2 42.0 L94.9 39.9 L90.4 37.7 L85.9 35.6 L81.4 33.5 L76.8 31.3 L72.2 29.1" fill="none" stroke="#000" stroke-opacity="0.6" stroke-width="0.7"/>
<path d="M72.2 182.8 L77.1 183.5 L82.0 184.1 L86.9 184.7 L91.7 185.3 L96.4 185.9 L101.1 186.5 L105.7 187.0 L110.3 187.6 L114.8 188.1 L119.3 188.6 L123.7 189.1 L128.0 189.5 L132.3 190.0 L136.6 190.4 L140.8 190.8 L144.9 191.2 L148.9 191.6 L153.0 192.0 L156.9 192.3 L160.8 192.7 L164.7 193.0 L168.4 193.3 L172.2 193.5 L175.9 193.8 L179.5 194.0 L183.0 194.3 L186.5 194.5 L190.0 194.7 L193.4 194.8 L196.7 195.0 L200.0 195.1 L203.2 195.3 L206.4 195.4 L209.5 195.4 L212.6 195.5 L215.6 195.6 L218.5 195.6 L221.4 195.6 L224.3 195.6 L227.0 195.6 L229.8 195.6 L232.4 195.5 L235.0 195.4 L237.6 195.4 L240.1 195.3 L242.5 195.1 L244.9 195.0 L247.2 194.8 L249.5 194.7 L251.7 194.5 L253.9 194.3 L256.0 194.0 L258.0 193.8 L260.0 193.5 L262.0 193.3 L263.8 193.0 L265.7 192.7 L267.4 192.3 L269.1 192.0 L270.8 191.6 L272.4 191.3 L273.9 190.9 L275.4 190.4 L276.9 190.0 L278.2 189.6 L279.6 189.1 L280.8 188.6 L282.0 188.1 L283.2 187.6 L284.3 187.1 L285.3 186.5 L286.3 185.9 L287.2 185.3 L288.1 184.7 L288.9 184.1 L289.7 183.5 L290.4 182.8 L291.0 182.1 L291.6 181.5 L292.1 180.7 L292.6 180.0 L293.0 179.3 L293.4 178.5 L293.7 177.7 L294.0 176.9 L294.1 176.1 L294.3 175.3 L294.4 174.5 L294.4 173.6 L294.4 172.7 L294.3 171.8 L294.1 170.9 L294.0 170.0 L293.7 169.0 L293.4 168.0 L293.0 167.1 L292.6 166.1 L292.1 165.0 L291.6 164.0 L291.0 162.9 L290.4 161.9 L289.7 160.8 L288.9 159.7 L288.1 158.6 L287.2 157.4 L286.3 156.3 L285.3 155.1 L284.3 153.9 L283.2 152.7 L282.0 151.4 L280.8 150.2 L279.6 148.9 L278.2 147.7 L276.9 146.4 L275.4 145.1 L273.9 143.7 L272.4 142.4 L270.8 141.0 L269.1 139.6 L267.4 138.2 L265.7 136.8 L263.8 135.4 L262.0 133.9 L260.0 132.5 L258.0 131.0 L256.0 129.5 L253.9 127.9 L251.7 126.4 L249.5 124.8 L247.2 123.3 L244.9 121.7 L242.5 120.1 L240.1 118.5 L237.6 116.8 L235.0 115.1 L232.4 113.5 L229.8 111.8 L227.0 110.1 L224.3 108.3 L221.4 106.6 L218.5 104.8 L215.6 103.0 L212.6 101.2 L209.5 99.4 L206.4 97.6 L203.2 95.8 L200.0 93.9 L196.7 92.0 L193.4 90.1 L190.0 88.2 L186.5 86.2 L183.0 84.3 L179.5 82.3 L175.9 80.3 L172.2 78.3 L168.4 76.3 L164.7 74.3 L160.8 72.2 L156.9 70.1 L153.0 68.0 L148.9 65.9 L144.9 63.8 L140.8 61.7 L136.6 59.5 L132.3 57.3 L128.0 55.1 L123.7 52.9 L119.3 50.7 L114.8 48.4 L110.3 46.2 L105.7 43.9 L101.1 41.6 L96.4 39.3 L91.7 36.9 L86.9 34.6 L82.0 32.2 L77.1 29.8 L72.2 27.4" fill="none" stroke="#000" stroke-opacity="0.6" stroke-width="0.7"/>
<path d="M72.2 201.7 L77.4 202.4 L82.7 203.0 L87.8 203.6 L92.9 204.2 L98.0 204.7 L103.0 205.3 L107.9 205.8 L112.8 206.3 L117.6 206.8 L122.3 207.3 L127.0 207.8 L131.6 208.2 L136.2 208.6 L140.7 209.0 L145.2 209.4 L149.6 209.8 L153.9 210.1 L158.2 210.5 L162.4 210.8 L166.5 211.1 L170.6 211.3 L174.6 211.6 L178.6 211.8 L182.5 212.0 L186.4 212.2 L190.2 212.4 L193.9 212.6 L197.6 212.7 L201.2 212.9 L204.7 213.0 L208.2 213.1 L211.7 213.1 L215.0 213.2 L218.4 213.2 L221.6 213.2 L224.8 213.2 L228.0 213.2 L231.0 213.2 L234.0 213.1 L237.0 213.0 L239.9 213.0 L242.7 212.8 L245.5 212.7 L248.2 212.6 L250.9 212.4 L253.5 212.2 L256.0 212.0 L258.5 211.8 L260.9 211.5 L263.3 211.3 L265.6 211.0 L267.8 210.7 L270.0 210.4 L272.1 210.1 L274.2 209.7 L276.2 209.3 L278.1 209.0 L280.0 208.5 L281.8 208.1 L283.6 207.7 L285.3 207.2 L286.9 206.7 L288.5 206.2 L290.0 205.7 L291.5 205.2 L292.9 204.6 L294.2 204.1 L295.5 203.5 L296.8 202.9 L297.9 202.2 L299.0 201.6 L300.1 200.9 L301.1 200.2 L302.0 199.5 L302.8 198.8 L303.7 198.1 L304.4 197.3 L305.1 196.5 L305.7 195.8 L306.3 194.9 L306.8 194.1 L307.2 193.3 L307.6 192.4 L308.0 191.5 L308.2 190.6 L308.4 189.7 L308.6 188.7 L308.7 187.8 L308.7 186.8 L308.7 185.8 L308.6 184.8 L308.4 183.8 L308.2 182.7 L308.0 181.6 L307.6 180.6 L307.2 179.5 L306.8 178.3 L306.3 177.2 L305.7 176.0 L305.1 174.8 L304.4 173.6 L303.7 172.4 L302.8 171.2 L302.0 169.9 L301.1 168.7 L300.1 167.4 L299.0 166.1 L297.9 164.7 L296.8 163.4 L295.5 162.0 L294.2 160.7 L292.9 159.3 L291.5 157.8 L290.0 156.4 L288.5 154.9 L286.9 153.5 L285.3 152.0 L283.6 150.5 L281.8 148.9 L280.0 147.4 L278.1 145.8 L276.2 144.2 L274.2 142.6 L272.1 141.0 L270.0 139.4 L267.8 137.7 L265.6 136.0 L263.3 134.3 L260.9 132.6 L258.5 130.9 L256.0 129.1 L253.5 127.4 L250.9 125.6 L248.2 123.8 L245.5 122.0 L242.7 120.1 L239.9 118.3 L237.0 116.4 L234.0 114.5 L231.0 112.6 L228.0 110.6 L224.8 108.7 L221.6 106.7 L218.4 104.7 L215.0 102.7 L211.7 100.7 L208.2 98.6 L204.7 96.6 L201.2 94.5 L197.6 92.4 L193.9 90.3 L190.2 88.1 L186.4 86.0 L182.5 83.8 L178.6 81.6 L174.6 79.4 L170.6 77.2 L166.5 74.9 L162.4 72.7 L158.2 70.4 L153.9 68.1 L149.6 65.8 L145.2 63.4 L140.7 61.1 L136.2 58.7 L131.6 56.3 L127.0 53.9 L122.3 51.5 L117.6 49.0 L112.8 46.5 L107.9 44.1 L103.0 41.6 L98.0 39.0 L92.9 36.5 L87.8 33.9 L82.7 31.3 L77.4 28.8 L72.2 26.1" fill="none" stroke="#000" stroke-opacity="0.6" stroke-width="0.7"/>
<path d="M72.2 220.4 L77.8 221.0 L83.3 221.6 L88.8 222.2 L94.2 222.8 L99.5 223.3 L104.8 223.9 L110.1 224.4 L115.2 224.9 L120.3 225.4 L125.4 225.8 L130.3 226.2 L135.2 226.7 L140.1 227.1 L144.9 227.4 L149.6 227.8 L154.2 228.1 L158.8 228.4 L163.4 228.7 L167.8 229.0 L172.2 229.3 L176.6 229.5 L180.8 229.7 L185.1 229.9 L189.2 230.1 L193.3 230.3 L197.3 230.4 L201.3 230.5 L205.2 230.6 L209.0 230.7 L212.8 230.8 L216.5 230.8 L220.1 230.9 L223.7 230.9 L227.2 230.9 L230.7 230.8 L234.0 230.8 L237.4 230.7 L240.6 230.6 L243.8 230.5 L247.0 230.4 L250.0 230.2 L253.0 230.0 L256.0 229.8 L258.9 229.6 L261.7 229.4 L264.4 229.2 L267.1 228.9 L269.8 228.6 L272.3 228.3 L274.8 228.0 L277.3 227.6 L279.6 227.3 L282.0 226.9 L284.2 226.5 L286.4 226.0 L288.5 225.6 L290.6 225.1 L292.6 224.7 L294.5 224.2 L296.4 223.6 L298.2 223.1 L299.9 222.5 L301.6 222.0 L303.2 221.4 L304.8 220.7 L306.2 220.1 L307.7 219.4 L309.0 218.8 L310.3 218.1 L311.6 217.3 L312.7 216.6 L313.8 215.9 L314.9 215.1 L315.9 214.3 L316.8 213.5 L317.6 212.6 L318.4 211.8 L319.2 210.9 L319.8 210.0 L320.4 209.1 L321.0 208.2 L321.4 207.2 L321.9 206.3 L322.2 205.3 L322.5 204.3 L322.7 203.2 L322.9 202.2 L323.0 201.1 L323.0 200.0 L323.0 198.9 L322.9 197.8 L322.7 196.6 L322.5 195.5 L322.2 194.3 L321.9 193.1 L321.4 191.9 L321.0 190.6 L320.4 189.4 L319.8 188.1 L319.2 186.8 L318.4 185.5 L317.6 184.1 L316.8 182.8 L315.9 181.4 L314.9 180.0 L313.8 178.6 L312.7 177.1 L311.6 175.7 L310.3 174.2 L309.0 172.7 L307.7 171.2 L306.2 169.6 L304.8 168.1 L303.2 166.5 L301.6 164.9 L299.9 163.3 L298.2 161.7 L296.4 160.0 L294.5 158.3 L292.6 156.6 L290.6 154.9 L288.5 153.2 L286.4 151.4 L284.2 149.7 L282.0 147.9 L279.6 146.1 L277.3 144.2 L274.8 142.4 L272.3 140.5 L269.8 138.6 L267.1 136.7 L264.4 134.8 L261.7 132.9 L258.9 130.9 L256.0 128.9 L253.0 126.9 L250.0 124.9 L247.0 122.8 L243.8 120.8 L240.6 118.7 L237.4 116.6 L234.0 114.5 L230.7 112.3 L227.2 110.2 L223.7 108.0 L220.1 105.8 L216.5 103.6 L212.8 101.3 L209.0 99.1 L205.2 96.8 L201.3 94.5 L197.3 92.2 L193.3 89.8 L189.2 87.5 L185.1 85.1 L180.8 82.7 L176.6 80.3 L172.2 77.9 L167.8 75.4 L163.4 72.9 L158.8 70.4 L154.2 67.9 L149.6 65.4 L144.9 62.9 L140.1 60.3 L135.2 57.7 L130.3 55.1 L125.4 52.5 L120.3 49.8 L115.2 47.1 L110.1 44.5 L104.8 41.7 L99.5 39.0 L94.2 36.3 L88.8 33.5 L83.3 30.7 L77.8 27.9 L72.2 25.1" fill="none" stroke="#000" stroke-opacity="0.6" stroke-width="0.7"/>
<path d="M72.2 238.9 L78.1 239.5 L83.9 240.1 L89.7 240.7 L95.5 241.2 L101.1 241.8 L106.7 242.3 L112.2 242.8 L117.7 243.3 L123.1 243.7 L128.4 244.1 L133.6 244.6 L138.8 244.9 L144.0 245.3 L149.0 245.7 L154.0 246.0 L158.9 246.3 L163.8 246.6 L168.6 246.9 L173.3 247.1 L177.9 247.3 L182.5 247.6 L187.0 247.7 L191.5 247.9 L195.9 248.1 L200.2 248.2 L204.4 248.3 L208.6 248.4 L212.7 248.4 L216.8 248.5 L220.8 248.5 L224.7 248.5 L228.5 248.5 L232.3 248.4 L236.0 248.4 L239.7 248.3 L243.3 248.2 L246.8 248.1 L250.2 247.9 L253.6 247.8 L256.9 247.6 L260.2 247.4 L263.4 247.1 L266.5 246.9 L269.5 246.6 L272.5 246.3 L275.4 246.0 L278.3 245.7 L281.0 245.3 L283.7 245.0 L286.4 244.6 L289.0 244.2 L291.5 243.7 L293.9 243.3 L296.3 242.8 L298.6 242.3 L300.8 241.8 L303.0 241.3 L305.1 240.7 L307.2 240.1 L309.1 239.5 L311.1 238.9 L312.9 238.3 L314.7 237.6 L316.4 236.9 L318.0 236.2 L319.6 235.5 L321.1 234.8 L322.5 234.0 L323.9 233.2 L325.2 232.4 L326.5 231.6 L327.6 230.8 L328.7 229.9 L329.8 229.0 L330.7 228.1 L331.6 227.2 L332.5 226.2 L333.2 225.3 L334.0 224.3 L334.6 223.3 L335.2 222.2 L335.7 221.2 L336.1 220.1 L336.5 219.0 L336.8 217.9 L337.0 216.8 L337.2 215.6 L337.3 214.4 L337.3 213.2 L337.3 212.0 L337.2 210.8 L337.0 209.5 L336.8 208.3 L336.5 207.0 L336.1 205.6 L335.7 204.3 L335.2 202.9 L334.6 201.6 L334.0 200.2 L333.2 198.7 L332.5 197.3 L331.6 195.8 L330.7 194.3 L329.8 192.8 L328.7 191.3 L327.6 189.8 L326.5 188.2 L325.2 186.6 L323.9 185.0 L322.5 183.4 L321.1 181.7 L319.6 180.1 L318.0 178.4 L316.4 176.7 L314.7 174.9 L312.9 173.2 L311.1 171.4 L309.1 169.6 L307.2 167.8 L305.1 166.0 L303.0 164.1 L300.8 162.2 L298.6 160.3 L296.3 158.4 L293.9 156.5 L291.5 154.5 L289.0 152.5 L286.4 150.5 L283.7 148.5 L281.0 146.5 L278.3 144.4 L275.4 142.3 L272.5 140.2 L269.5 138.1 L266.5 135.9 L263.4 133.8 L260.2 131.6 L256.9 129.4 L253.6 127.2 L250.2 124.9 L246.8 122.7 L243.3 120.4 L239.7 118.1 L236.0 115.7 L232.3 113.4 L228.5 111.0 L224.7 108.6 L220.8 106.2 L216.8 103.8 L212.7 101.3 L208.6 98.8 L204.4 96.3 L200.2 93.8 L195.9 91.3 L191.5 88.7 L187.0 86.2 L182.5 83.6 L177.9 80.9 L173.3 78.3 L168.6 75.6 L163.8 73.0 L158.9 70.3 L154.0 67.5 L149.0 64.8 L144.0 62.0 L138.8 59.2 L133.6 56.4 L128.4 53.6 L123.1 50.8 L117.7 47.9 L112.2 45.0 L106.7 42.1 L101.1 39.2 L95.5 36.2 L89.7 33.3 L83.9 30.3 L78.1 27.3 L72.2 24.2" fill="none" stroke="#000" stroke-opacity="0.6" stroke-width="0.7"/>
<path d="M72.2 257.2 L78.4 257.8 L84.6 258.4 L90.7 259.0 L96.7 259.5 L102.7 260.1 L108.6 260.6 L114.4 261.0 L120.1 261.5 L125.8 261.9 L131.4 262.4 L137.0 262.7 L142.4 263.1 L147.8 263.5 L153.2 263.8 L158.4 264.1 L163.6 264.4 L168.7 264.7 L173.8 264.9 L178.7 265.1 L183.6 265.3 L188.5 265.5 L193.2 265.6 L197.9 265.8 L202.5 265.9 L207.1 266.0 L211.6 266.0 L216.0 266.1 L220.3 266.1 L224.6 266.1 L228.8 266.1 L232.9 266.1 L237.0 266.0 L241.0 265.9 L244.9 265.8 L248.7 265.7 L252.5 265.5 L256.2 265.3 L259.8 265.2 L263.4 264.9 L266.9 264.7 L270.3 264.4 L273.7 264.2 L276.9 263.9 L280.2 263.5 L283.3 263.2 L286.4 262.8 L289.4 262.4 L292.3 262.0 L295.2 261.6 L297.9 261.1 L300.7 260.7 L303.3 260.2 L305.9 259.6 L308.4 259.1 L310.8 258.5 L313.2 258.0 L315.5 257.3 L317.7 256.7 L319.8 256.1 L321.9 255.4 L323.9 254.7 L325.9 254.0 L327.8 253.3 L329.6 252.5 L331.3 251.7 L332.9 250.9 L334.5 250.1 L336.0 249.2 L337.5 248.4 L338.9 247.5 L340.2 246.6 L341.4 245.6 L342.6 244.7 L343.7 243.7 L344.7 242.7 L345.6 241.7 L346.5 240.7 L347.3 239.6 L348.1 238.5 L348.7 237.4 L349.3 236.3 L349.9 235.1 L350.3 233.9 L350.7 232.8 L351.0 231.5 L351.3 230.3 L351.5 229.0 L351.6 227.8 L351.6 226.5 L351.6 225.1 L351.5 223.8 L351.3 222.4 L351.0 221.0 L350.7 219.6 L350.3 218.2 L349.9 216.7 L349.3 215.3 L348.7 213.8 L348.1 212.2 L347.3 210.7 L346.5 209.1 L345.6 207.6 L344.7 205.9 L343.7 204.3 L342.6 202.7 L341.4 201.0 L340.2 199.3 L338.9 197.6 L337.5 195.9 L336.0 194.1 L334.5 192.3 L332.9 190.5 L331.3 188.7 L329.6 186.8 L327.8 185.0 L325.9 183.1 L323.9 181.2 L321.9 179.2 L319.8 177.3 L317.7 175.3 L315.5 173.3 L313.2 171.3 L310.8 169.3 L308.4 167.2 L305.9 165.1 L303.3 163.0 L300.7 160.9 L297.9 158.7 L295.2 156.5 L292.3 154.4 L289.4 152.1 L286.4 149.9 L283.3 147.6 L280.2 145.4 L276.9 143.1 L273.7 140.7 L270.3 138.4 L266.9 136.0 L263.4 133.6 L259.8 131.2 L256.2 128.8 L252.5 126.3 L248.7 123.9 L244.9 121.4 L241.0 118.8 L237.0 116.3 L232.9 113.7 L228.8 111.2 L224.6 108.5 L220.3 105.9 L216.0 103.3 L211.6 100.6 L207.1 97.9 L202.5 95.2 L197.9 92.5 L193.2 89.7 L188.5 86.9 L183.6 84.1 L178.7 81.3 L173.8 78.4 L168.7 75.6 L163.6 72.7 L158.4 69.8 L153.2 66.8 L147.8 63.9 L142.4 60.9 L137.0 57.9 L131.4 54.9 L125.8 51.8 L120.1 48.8 L114.4 45.7 L108.6 42.6 L102.7 39.5 L96.7 36.3 L90.7 33.1 L84.6 30.0 L78.4 26.7 L72.2 23.5" fill="none" stroke="#000" stroke-opacity="0.6" stroke-width="0.7"/>
<path d="M373.9 186.4 L369.2 184.1 L364.6 181.9 L360.0 179.7 L355.4 177.6 L350.9 175.4 L346.5 173.2 L342.1 171.1 L337.8 169.0 L333.5 166.9 L329.3 164.8 L325.1 162.8 L321.0 160.7 L316.9 158.7 L312.9 156.7 L308.9 154.7 L305.0 152.7 L301.2 150.7 L297.4 148.8 L293.6 146.9 L289.9 145.0 L286.3 143.1 L282.7 141.2 L279.1 139.3 L275.7 137.5 L272.2 135.6 L268.9 133.8 L265.5 132.0 L262.3 130.2 L259.0 128.5 L255.9 126.7 L252.8 125.0 L249.7 123.3 L246.7 121.6 L243.8 119.9 L240.9 118.2 L238.0 116.5 L235.2 114.9 L232.5 113.3 L229.8 111.7 L227.2 110.1 L224.6 108.5 L222.1 107.0 L219.6 105.4 L217.2 103.9 L214.8 102.4 L212.5 100.9 L210.2 99.5 L208.0 98.0 L205.9 96.6 L203.8 95.1 L201.7 93.7 L199.7 92.3 L197.8 91.0 L195.9 89.6 L194.1 88.3 L192.3 86.9 L190.5 85.6 L188.9 84.3 L187.2 83.1 L185.7 81.8 L184.2 80.6 L182.7 79.3 L181.3 78.1 L179.9 76.9 L178.6 75.8 L177.4 74.6 L176.2 73.5 L175.0 72.3 L174.0 71.2 L172.9 70.1 L171.9 69.0 L171.0 68.0 L170.1 66.9 L169.3 65.9 L168.5 64.9 L167.8 63.9 L167.1 62.9 L166.5 61.9 L166.0 61.0 L165.5 60.1 L165.0 59.2 L164.6 58.3 L164.3 57.4 L164.0 56.5 L163.7 55.7 L163.6 54.8 L163.4 54.0 L163.3 53.2 L163.3 52.4 L163.3 51.7 L163.4 50.9 L163.6 50.2 L163.7 49.5 L164.0 48.8 L164.3 48.1 L164.6 47.4 L165.0 46.7 L165.5 46.1 L166.0 45.5 L166.5 44.9 L167.1 44.3 L167.8 43.7 L168.5 43.2 L169.3 42.6 L170.1 42.1 L171.0 41.6 L171.9 41.1 L172.9 40.6 L174.0 40.2 L175.0 39.7 L176.2 39.3 L177.4 38.9 L178.6 38.5 L179.9 38.2 L181.3 37.8 L182.7 37.5 L184.2 37.1 L185.7 36.8 L187.2 36.5 L188.9 36.3 L190.5 36.0 L192.3 35.8 L194.1 35.5 L195.9 35.3 L197.8 35.1 L199.7 34.9 L201.7 34.8 L203.8 34.6 L205.9 34.5 L208.0 34.4 L210.2 34.3 L212.5 34.2 L214.8 34.2 L217.2 34.1 L219.6 34.1 L222.1 34.1 L224.6 34.1 L227.2 34.1 L229.8 34.1 L232.5 34.2 L235.2 34.2 L238.0 34.3 L240.9 34.4 L243.8 34.5 L246.7 34.7 L249.7 34.8 L252.8 35.0 L255.9 35.2 L259.0 35.4 L262.3 35.6 L265.5 35.8 L268.9 36.1 L272.2 36.3 L275.7 36.6 L279.1 36.9 L282.7 37.2 L286.3 37.6 L289.9 37.9 L293.6 38.3 L297.4 38.7 L301.2 39.1 L305.0 39.5 L308.9 39.9 L312.9 40.3 L316.9 40.8 L321.0 41.3 L325.1 41.8 L329.3 42.3 L333.5 42.8 L337.8 43.4 L342.1 43.9 L346.5 44.5 L350.9 45.1 L355.4 45.7 L360.0 46.3 L364.6 47.0 L369.2 47.6 L373.9 48.3Z" fill="rgb(142,142,255)"/>
<path d="M373.9 186.0 L369.3 183.9 L364.7 181.7 L360.1 179.5 L355.6 177.4 L351.2 175.3 L346.8 173.2 L342.5 171.1 L338.2 169.0 L334.0 166.9 L329.8 164.9 L325.6 162.9 L321.6 160.8 L317.6 158.8 L313.6 156.9 L309.7 154.9 L305.8 153.0 L302.0 151.0 L298.2 149.1 L294.5 147.2 L290.9 145.3 L287.3 143.5 L283.7 141.6 L280.2 139.8 L276.8 138.0 L273.4 136.2 L270.0 134.4 L266.8 132.6 L263.5 130.9 L260.3 129.1 L257.2 127.4 L254.1 125.7 L251.1 124.0 L248.1 122.3 L245.2 120.7 L242.4 119.1 L239.5 117.4 L236.8 115.8 L234.1 114.2 L231.4 112.7 L228.8 111.1 L226.3 109.6 L223.8 108.0 L221.3 106.5 L218.9 105.0 L216.6 103.6 L214.3 102.1 L212.1 100.7 L209.9 99.2 L207.8 97.8 L205.7 96.4 L203.7 95.0 L201.7 93.7 L199.8 92.3 L197.9 91.0 L196.1 89.7 L194.3 88.4 L192.6 87.1 L191.0 85.8 L189.4 84.6 L187.8 83.4 L186.3 82.1 L184.9 80.9 L183.5 79.8 L182.1 78.6 L180.8 77.4 L179.6 76.3 L178.4 75.2 L177.3 74.1 L176.2 73.0 L175.2 71.9 L174.2 70.9 L173.3 69.8 L172.4 68.8 L171.6 67.8 L170.9 66.8 L170.1 65.8 L169.5 64.9 L168.9 63.9 L168.3 63.0 L167.8 62.1 L167.4 61.2 L167.0 60.3 L166.6 59.5 L166.4 58.6 L166.1 57.8 L165.9 57.0 L165.8 56.2 L165.7 55.4 L165.7 54.6 L165.7 53.9 L165.8 53.1 L165.9 52.4 L166.1 51.7 L166.4 51.1 L166.6 50.4 L167.0 49.7 L167.4 49.1 L167.8 48.5 L168.3 47.9 L168.9 47.3 L169.5 46.7 L170.1 46.2 L170.9 45.6 L171.6 45.1 L172.4 44.6 L173.3 44.1 L174.2 43.7 L175.2 43.2 L176.2 42.8 L177.3 42.3 L178.4 41.9 L179.6 41.5 L180.8 41.2 L182.1 40.8 L183.5 40.5 L184.9 40.1 L186.3 39.8 L187.8 39.5 L189.4 39.2 L191.0 39.0 L192.6 38.7 L194.3 38.5 L196.1 38.3 L197.9 38.1 L199.8 37.9 L201.7 37.8 L203.7 37.6 L205.7 37.5 L207.8 37.4 L209.9 37.3 L212.1 37.2 L214.3 37.1 L216.6 37.1 L218.9 37.0 L221.3 37.0 L223.8 37.0 L226.3 37.0 L228.8 37.0 L231.4 37.1 L234.1 37.2 L236.8 37.2 L239.5 37.3 L242.4 37.4 L245.2 37.6 L248.1 37.7 L251.1 37.9 L254.1 38.0 L257.2 38.2 L260.3 38.4 L263.5 38.7 L266.8 38.9 L270.0 39.2 L273.4 39.4 L276.8 39.7 L280.2 40.0 L283.7 40.4 L287.3 40.7 L290.9 41.1 L294.5 41.4 L298.2 41.8 L302.0 42.2 L305.8 42.6 L309.7 43.1 L313.6 43.5 L317.6 44.0 L321.6 44.5 L325.6 45.0 L329.8 45.5 L334.0 46.0 L338.2 46.6 L342.5 47.1 L346.8 47.7 L351.2 48.3 L355.6 48.9 L360.1 49.6 L364.7 50.2 L369.3 50.9 L373.9 51.5Z" fill="rgb(108,108,255)"/>
<path d="M373.9 183.8 L369.6 181.8 L365.3 179.9 L361.1 178.0 L356.9 176.0 L352.8 174.1 L348.7 172.2 L344.6 170.4 L340.6 168.5 L336.7 166.7 L332.8 164.8 L329.0 163.0 L325.2 161.2 L321.4 159.4 L317.7 157.6 L314.1 155.9 L310.5 154.2 L306.9 152.4 L303.4 150.7 L300.0 149.0 L296.6 147.3 L293.2 145.7 L289.9 144.0 L286.7 142.4 L283.4 140.8 L280.3 139.2 L277.2 137.6 L274.1 136.0 L271.1 134.4 L268.1 132.9 L265.2 131.4 L262.4 129.9 L259.6 128.4 L256.8 126.9 L254.1 125.4 L251.4 123.9 L248.8 122.5 L246.2 121.1 L243.7 119.7 L241.2 118.3 L238.8 116.9 L236.4 115.5 L234.1 114.2 L231.8 112.9 L229.6 111.5 L227.4 110.2 L225.3 109.0 L223.2 107.7 L221.2 106.4 L219.2 105.2 L217.2 104.0 L215.4 102.7 L213.5 101.5 L211.7 100.4 L210.0 99.2 L208.3 98.0 L206.7 96.9 L205.1 95.8 L203.5 94.7 L202.0 93.6 L200.6 92.5 L199.2 91.4 L197.8 90.4 L196.6 89.4 L195.3 88.4 L194.1 87.3 L193.0 86.4 L191.9 85.4 L190.8 84.4 L189.8 83.5 L188.8 82.6 L187.9 81.7 L187.1 80.8 L186.3 79.9 L185.5 79.0 L184.8 78.2 L184.1 77.3 L183.5 76.5 L183.0 75.7 L182.4 74.9 L182.0 74.1 L181.6 73.4 L181.2 72.6 L180.9 71.9 L180.6 71.2 L180.4 70.5 L180.2 69.8 L180.1 69.1 L180.0 68.5 L180.0 67.8 L180.0 67.2 L180.1 66.6 L180.2 66.0 L180.4 65.4 L180.6 64.9 L180.9 64.3 L181.2 63.8 L181.6 63.3 L182.0 62.8 L182.4 62.3 L183.0 61.8 L183.5 61.4 L184.1 60.9 L184.8 60.5 L185.5 60.1 L186.3 59.7 L187.1 59.3 L187.9 58.9 L188.8 58.6 L189.8 58.2 L190.8 57.9 L191.9 57.6 L193.0 57.3 L194.1 57.0 L195.3 56.8 L196.6 56.5 L197.8 56.3 L199.2 56.1 L200.6 55.9 L202.0 55.7 L203.5 55.5 L205.1 55.4 L206.7 55.2 L208.3 55.1 L210.0 55.0 L211.7 54.9 L213.5 54.8 L215.4 54.7 L217.2 54.7 L219.2 54.7 L221.2 54.6 L223.2 54.6 L225.3 54.6 L227.4 54.7 L229.6 54.7 L231.8 54.8 L234.1 54.8 L236.4 54.9 L238.8 55.0 L241.2 55.1 L243.7 55.3 L246.2 55.4 L248.8 55.6 L251.4 55.7 L254.1 55.9 L256.8 56.1 L259.6 56.4 L262.4 56.6 L265.2 56.8 L268.1 57.1 L271.1 57.4 L274.1 57.7 L277.2 58.0 L280.3 58.3 L283.4 58.7 L286.7 59.0 L289.9 59.4 L293.2 59.8 L296.6 60.2 L300.0 60.6 L303.4 61.0 L306.9 61.5 L310.5 61.9 L314.1 62.4 L317.7 62.9 L321.4 63.4 L325.2 63.9 L329.0 64.5 L332.8 65.0 L336.7 65.6 L340.6 66.2 L344.6 66.8 L348.7 67.4 L352.8 68.0 L356.9 68.7 L361.1 69.3 L365.3 70.0 L369.6 70.7 L373.9 71.4Z" fill="rgb(74,74,255)"/>
<path d="M373.9 180.6 L369.9 178.9 L366.0 177.1 L362.0 175.4 L358.2 173.7 L354.3 172.1 L350.5 170.4 L346.8 168.7 L343.1 167.1 L339.4 165.5 L335.8 163.9 L332.3 162.3 L328.8 160.7 L325.3 159.1 L321.9 157.6 L318.5 156.1 L315.2 154.5 L311.9 153.0 L308.6 151.5 L305.4 150.0 L302.3 148.6 L299.2 147.1 L296.1 145.7 L293.1 144.3 L290.1 142.8 L287.2 141.4 L284.3 140.1 L281.5 138.7 L278.7 137.3 L275.9 136.0 L273.2 134.7 L270.6 133.4 L268.0 132.1 L265.4 130.8 L262.9 129.5 L260.4 128.2 L258.0 127.0 L255.6 125.8 L253.3 124.6 L251.0 123.3 L248.8 122.2 L246.6 121.0 L244.4 119.8 L242.3 118.7 L240.2 117.5 L238.2 116.4 L236.2 115.3 L234.3 114.2 L232.4 113.2 L230.6 112.1 L228.8 111.0 L227.0 110.0 L225.3 109.0 L223.7 108.0 L222.1 107.0 L220.5 106.0 L219.0 105.1 L217.5 104.1 L216.1 103.2 L214.7 102.2 L213.4 101.3 L212.1 100.4 L210.8 99.6 L209.6 98.7 L208.5 97.8 L207.4 97.0 L206.3 96.2 L205.3 95.4 L204.3 94.6 L203.4 93.8 L202.5 93.0 L201.6 92.3 L200.9 91.5 L200.1 90.8 L199.4 90.1 L198.7 89.4 L198.1 88.7 L197.6 88.0 L197.0 87.4 L196.6 86.7 L196.1 86.1 L195.8 85.5 L195.4 84.9 L195.1 84.3 L194.9 83.7 L194.7 83.2 L194.5 82.6 L194.4 82.1 L194.3 81.6 L194.3 81.1 L194.3 80.6 L194.4 80.1 L194.5 79.6 L194.7 79.2 L194.9 78.8 L195.1 78.3 L195.4 77.9 L195.8 77.5 L196.1 77.2 L196.6 76.8 L197.0 76.5 L197.6 76.1 L198.1 75.8 L198.7 75.5 L199.4 75.2 L200.1 74.9 L200.9 74.6 L201.6 74.4 L202.5 74.2 L203.4 73.9 L204.3 73.7 L205.3 73.5 L206.3 73.3 L207.4 73.2 L208.5 73.0 L209.6 72.9 L210.8 72.8 L212.1 72.6 L213.4 72.5 L214.7 72.5 L216.1 72.4 L217.5 72.3 L219.0 72.3 L220.5 72.3 L222.1 72.3 L223.7 72.3 L225.3 72.3 L227.0 72.3 L228.8 72.3 L230.6 72.4 L232.4 72.5 L234.3 72.5 L236.2 72.6 L238.2 72.8 L240.2 72.9 L242.3 73.0 L244.4 73.2 L246.6 73.3 L248.8 73.5 L251.0 73.7 L253.3 73.9 L255.6 74.2 L258.0 74.4 L260.4 74.6 L262.9 74.9 L265.4 75.2 L268.0 75.5 L270.6 75.8 L273.2 76.1 L275.9 76.4 L278.7 76.8 L281.5 77.2 L284.3 77.5 L287.2 77.9 L290.1 78.3 L293.1 78.7 L296.1 79.2 L299.2 79.6 L302.3 80.1 L305.4 80.6 L308.6 81.1 L311.9 81.6 L315.2 82.1 L318.5 82.6 L321.9 83.1 L325.3 83.7 L328.8 84.3 L332.3 84.9 L335.8 85.5 L339.4 86.1 L343.1 86.7 L346.8 87.4 L350.5 88.0 L354.3 88.7 L358.2 89.4 L362.0 90.1 L366.0 90.8 L369.9 91.5 L373.9 92.2Z" fill="rgb(40,40,255)"/>
<path d="M373.9 175.2 L370.3 173.7 L366.6 172.3 L363.0 170.8 L359.4 169.4 L355.9 167.9 L352.4 166.5 L349.0 165.1 L345.6 163.8 L342.2 162.4 L338.9 161.0 L335.6 159.7 L332.4 158.3 L329.2 157.0 L326.0 155.7 L322.9 154.4 L319.8 153.1 L316.8 151.9 L313.8 150.6 L310.9 149.4 L308.0 148.1 L305.1 146.9 L302.3 145.7 L299.5 144.5 L296.8 143.3 L294.1 142.2 L291.4 141.0 L288.8 139.9 L286.3 138.8 L283.7 137.6 L281.3 136.5 L278.8 135.4 L276.4 134.4 L274.1 133.3 L271.7 132.3 L269.5 131.2 L267.2 130.2 L265.0 129.2 L262.9 128.2 L260.8 127.2 L258.7 126.2 L256.7 125.3 L254.7 124.3 L252.8 123.4 L250.9 122.5 L249.0 121.5 L247.2 120.7 L245.4 119.8 L243.7 118.9 L242.0 118.0 L240.3 117.2 L238.7 116.4 L237.2 115.5 L235.7 114.7 L234.2 113.9 L232.7 113.2 L231.3 112.4 L230.0 111.6 L228.7 110.9 L227.4 110.2 L226.2 109.5 L225.0 108.8 L223.8 108.1 L222.7 107.4 L221.6 106.7 L220.6 106.1 L219.6 105.4 L218.7 104.8 L217.8 104.2 L216.9 103.6 L216.1 103.0 L215.4 102.4 L214.6 101.9 L213.9 101.3 L213.3 100.8 L212.7 100.3 L212.1 99.7 L211.6 99.2 L211.1 98.8 L210.7 98.3 L210.3 97.8 L209.9 97.4 L209.6 97.0 L209.4 96.5 L209.1 96.1 L208.9 95.7 L208.8 95.3 L208.7 95.0 L208.6 94.6 L208.6 94.3 L208.6 94.0 L208.7 93.6 L208.8 93.3 L208.9 93.0 L209.1 92.8 L209.4 92.5 L209.6 92.2 L209.9 92.0 L210.3 91.8 L210.7 91.6 L211.1 91.4 L211.6 91.2 L212.1 91.0 L212.7 90.8 L213.3 90.7 L213.9 90.5 L214.6 90.4 L215.4 90.3 L216.1 90.2 L216.9 90.1 L217.8 90.0 L218.7 90.0 L219.6 89.9 L220.6 89.9 L221.6 89.9 L222.7 89.9 L223.8 89.9 L225.0 89.9 L226.2 89.9 L227.4 90.0 L228.7 90.0 L230.0 90.1 L231.3 90.2 L232.7 90.3 L234.2 90.4 L235.7 90.5 L237.2 90.6 L238.7 90.8 L240.3 90.9 L242.0 91.1 L243.7 91.3 L245.4 91.5 L247.2 91.7 L249.0 91.9 L250.9 92.2 L252.8 92.4 L254.7 92.7 L256.7 92.9 L258.7 93.2 L260.8 93.5 L262.9 93.8 L265.0 94.2 L267.2 94.5 L269.5 94.9 L271.7 95.2 L274.1 95.6 L276.4 96.0 L278.8 96.4 L281.3 96.8 L283.7 97.2 L286.3 97.7 L288.8 98.1 L291.4 98.6 L294.1 99.1 L296.8 99.6 L299.5 100.1 L302.3 100.6 L305.1 101.1 L308.0 101.7 L310.9 102.2 L313.8 102.8 L316.8 103.4 L319.8 104.0 L322.9 104.6 L326.0 105.2 L329.2 105.8 L332.4 106.5 L335.6 107.2 L338.9 107.8 L342.2 108.5 L345.6 109.2 L349.0 109.9 L352.4 110.6 L355.9 111.4 L359.4 112.1 L363.0 112.9 L366.6 113.7 L370.3 114.5 L373.9 115.3Z" fill="rgb(0,0,255)"/>
<path d="M373.9 186.0 L369.3 183.9 L364.7 181.7 L360.1 179.5 L355.6 177.4 L351.2 175.3 L346.8 173.2 L342.5 171.1 L338.2 169.0 L334.0 166.9 L329.8 164.9 L325.6 162.9 L321.6 160.8 L317.6 158.8 L313.6 156.9 L309.7 154.9 L305.8 153.0 L302.0 151.0 L298.2 149.1 L294.5 147.2 L290.9 145.3 L287.3 143.5 L283.7 141.6 L280.2 139.8 L276.8 138.0 L273.4 136.2 L270.0 134.4 L266.8 132.6 L263.5 130.9 L260.3 129.1 L257.2 127.4 L254.1 125.7 L251.1 124.0 L248.1 122.3 L245.2 120.7 L242.4 119.1 L239.5 117.4 L236.8 115.8 L234.1 114.2 L231.4 112.7 L228.8 111.1 L226.3 109.6 L223.8 108.0 L221.3 106.5 L218.9 105.0 L216.6 103.6 L214.3 102.1 L212.1 100.7 L209.9 99.2 L207.8 97.8 L205.7 96.4 L203.7 95.0 L201.7 93.7 L199.8 92.3 L197.9 91.0 L196.1 89.7 L194.3 88.4 L192.6 87.1 L191.0 85.8 L189.4 84.6 L187.8 83.4 L186.3 82.1 L184.9 80.9 L183.5 79.8 L182.1 78.6 L180.8 77.4 L179.6 76.3 L178.4 75.2 L177.3 74.1 L176.2 73.0 L175.2 71.9 L174.2 70.9 L173.3 69.8 L172.4 68.8 L171.6 67.8 L170.9 66.8 L170.1 65.8 L169.5 64.9 L168.9 63.9 L168.3 63.0 L167.8 62.1 L167.4 61.2 L167.0 60.3 L166.6 59.5 L166.4 58.6 L166.1 57.8 L165.9 57.0 L165.8 56.2 L165.7 55.4 L165.7 54.6 L165.7 53.9 L165.8 53.1 L165.9 52.4 L166.1 51.7 L166.4 51.1 L166.6 50.4 L167.0 49.7 L167.4 49.1 L167.8 48.5 L168.3 47.9 L168.9 47.3 L169.5 46.7 L170.1 46.2 L170.9 45.6 L171.6 45.1 L172.4 44.6 L173.3 44.1 L174.2 43.7 L175.2 43.2 L176.2 42.8 L177.3 42.3 L178.4 41.9 L179.6 41.5 L180.8 41.2 L182.1 40.8 L183.5 40.5 L184.9 40.1 L186.3 39.8 L187.8 39.5 L189.4 39.2 L191.0 39.0 L192.6 38.7 L194.3 38.5 L196.1 38.3 L197.9 38.1 L199.8 37.9 L201.7 37.8 L203.7 37.6 L205.7 37.5 L207.8 37.4 L209.9 37.3 L212.1 37.2 L214.3 37.1 L216.6 37.1 L218.9 37.0 L221.3 37.0 L223.8 37.0 L226.3 37.0 L228.8 37.0 L231.4 37.1 L234.1 37.2 L236.8 37.2 L239.5 37.3 L242.4 37.4 L245.2 37.6 L248.1 37.7 L251.1 37.9 L254.1 38.0 L257.2 38.2 L260.3 38.4 L263.5 38.7 L266.8 38.9 L270.0 39.2 L273.4 39.4 L276.8 39.7 L280.2 40.0 L283.7 40.4 L287.3 40.7 L290.9 41.1 L294.5 41.4 L298.2 41.8 L302.0 42.2 L305.8 42.6 L309.7 43.1 L313.6 43.5 L317.6 44.0 L321.6 44.5 L325.6 45.0 L329.8 45.5 L334.0 46.0 L338.2 46.6 L342.5 47.1 L346.8 47.7 L351.2 48.3 L355.6 48.9 L360.1 49.6 L364.7 50.2 L369.3 50.9 L373.9 51.5" fill="none" stroke="#000" stroke-opacity="0.6" stroke-width="0.7"/>
<path d="M373.9 183.8 L369.6 181.8 L365.3 179.9 L361.1 178.0 L356.9 176.0 L352.8 174.1 L348.7 172.2 L344.6 170.4 L340.6 168.5 L336.7 166.7 L332.8 164.8 L329.0 163.0 L325.2 161.2 L321.4 159.4 L317.7 157.6 L314.1 155.9 L310.5 154.2 L306.9 152.4 L303.4 150.7 L300.0 149.0 L296.6 147.3 L293.2 145.7 L289.9 144.0 L286.7 142.4 L283.4 140.8 L280.3 139.2 L277.2 137.6 L274.1 136.0 L271.1 134.4 L268.1 132.9 L265.2 131.4 L262.4 129.9 L259.6 128.4 L256.8 126.9 L254.1 125.4 L251.4 123.9 L248.8 122.5 L246.2 121.1 L243.7 119.7 L241.2 118.3 L238.8 116.9 L236.4 115.5 L234.1 114.2 L231.8 112.9 L229.6 111.5 L227.4 110.2 L225.3 109.0 L223.2 107.7 L221.2 106.4 L219.2 105.2 L217.2 104.0 L215.4 102.7 L213.5 101.5 L211.7 100.4 L210.0 99.2 L208.3 98.0 L206.7 96.9 L205.1 95.8 L203.5 94.7 L202.0 93.6 L200.6 92.5 L199.2 91.4 L197.8 90.4 L196.6 89.4 L195.3 88.4 L194.1 87.3 L193.0 86.4 L191.9 85.4 L190.8 84.4 L189.8 83.5 L188.8 82.6 L187.9 81.7 L187.1 80.8 L186.3 79.9 L185.5 79.0 L184.8 78.2 L184.1 77.3 L183.5 76.5 L183.0 75.7 L182.4 74.9 L182.0 74.1 L181.6 73.4 L181.2 72.6 L180.9 71.9 L180.6 71.2 L180.4 70.5 L180.2 69.8 L180.1 69.1 L180.0 68.5 L180.0 67.8 L180.0 67.2 L180.1 66.6 L180.2 66.0 L180.4 65.4 L180.6 64.9 L180.9 64.3 L181.2 63.8 L181.6 63.3 L182.0 62.8 L182.4 62.3 L183.0 61.8 L183.5 61.4 L184.1 60.9 L184.8 60.5 L185.5 60.1 L186.3 59.7 L187.1 59.3 L187.9 58.9 L188.8 58.6 L189.8 58.2 L190.8 57.9 L191.9 57.6 L193.0 57.3 L194.1 57.0 L195.3 56.8 L196.6 56.5 L197.8 56.3 L199.2 56.1 L200.6 55.9 L202.0 55.7 L203.5 55.5 L205.1 55.4 L206.7 55.2 L208.3 55.1 L210.0 55.0 L211.7 54.9 L213.5 54.8 L215.4 54.7 L217.2 54.7 L219.2 54.7 L221.2 54.6 L223.2 54.6 L225.3 54.6 L227.4 54.7 L229.6 54.7 L231.8 54.8 L234.1 54.8 L236.4 54.9 L238.8 55.0 L241.2 55.1 L243.7 55.3 L246.2 55.4 L248.8 55.6 L251.4 55.7 L254.1 55.9 L256.8 56.1 L259.6 56.4 L262.4 56.6 L265.2 56.8 L268.1 57.1 L271.1 57.4 L274.1 57.7 L277.2 58.0 L280.3 58.3 L283.4 58.7 L286.7 59.0 L289.9 59.4 L293.2 59.8 L296.6 60.2 L300.0 60.6 L303.4 61.0 L306.9 61.5 L310.5 61.9 L314.1 62.4 L317.7 62.9 L321.4 63.4 L325.2 63.9 L329.0 64.5 L332.8 65.0 L336.7 65.6 L340.6 66.2 L344.6 66.8 L348.7 67.4 L352.8 68.0 L356.9 68.7 L361.1 69.3 L365.3 70.0 L369.6 70.7 L373.9 71.4" fill="none" stroke="#000" stroke-opacity="0.6" stroke-width="0.7"/>
<path d="M373.9 180.6 L369.9 178.9 L366.0 177.1 L362.0 175.4 L358.2 173.7 L354.3 172.1 L350.5 170.4 L346.8 168.7 L343.1 167.1 L339.4 165.5 L335.8 163.9 L332.3 162.3 L328.8 160.7 L325.3 159.1 L321.9 157.6 L318.5 156.1 L315.2 154.5 L311.9 153.0 L308.6 151.5 L305.4 150.0 L302.3 148.6 L299.2 147.1 L296.1 145.7 L293.1 144.3 L290.1 142.8 L287.2 141.4 L284.3 140.1 L281.5 138.7 L278.7 137.3 L275.9 136.0 L273.2 134.7 L270.6 133.4 L268.0 132.1 L265.4 130.8 L262.9 129.5 L260.4 128.2 L258.0 127.0 L255.6 125.8 L253.3 124.6 L251.0 123.3 L248.8 122.2 L246.6 121.0 L244.4 119.8 L242.3 118.7 L240.2 117.5 L238.2 116.4 L236.2 115.3 L234.3 114.2 L232.4 113.2 L230.6 112.1 L228.8 111.0 L227.0 110.0 L225.3 109.0 L223.7 108.0 L222.1 107.0 L220.5 106.0 L219.0 105.1 L217.5 104.1 L216.1 103.2 L214.7 102.2 L213.4 101.3 L212.1 100.4 L210.8 99.6 L209.6 98.7 L208.5 97.8 L207.4 97.0 L206.3 96.2 L205.3 95.4 L204.3 94.6 L203.4 93.8 L202.5 93.0 L201.6 92.3 L200.9 91.5 L200.1 90.8 L199.4 90.1 L198.7 89.4 L198.1 88.7 L197.6 88.0 L197.0 87.4 L196.6 86.7 L196.1 86.1 L195.8 85.5 L195.4 84.9 L195.1 84.3 L194.9 83.7 L194.7 83.2 L194.5 82.6 L194.4 82.1 L194.3 81.6 L194.3 81.1 L194.3 80.6 L194.4 80.1 L194.5 79.6 L194.7 79.2 L194.9 78.8 L195.1 78.3 L195.4 77.9 L195.8 77.5 L196.1 77.2 L196.6 76.8 L197.0 76.5 L197.6 76.1 L198.1 75.8 L198.7 75.5 L199.4 75.2 L200.1 74.9 L200.9 74.6 L201.6 74.4 L202.5 74.2 L203.4 73.9 L204.3 73.7 L205.3 73.5 L206.3 73.3 L207.4 73.2 L208.5 73.0 L209.6 72.9 L210.8 72.8 L212.1 72.6 L213.4 72.5 L214.7 72.5 L216.1 72.4 L217.5 72.3 L219.0 72.3 L220.5 72.3 L222.1 72.3 L223.7 72.3 L225.3 72.3 L227.0 72.3 L228.8 72.3 L230.6 72.4 L232.4 72.5 L234.3 72.5 L236.2 72.6 L238.2 72.8 L240.2 72.9 L242.3 73.0 L244.4 73.2 L246.6 73.3 L248.8 73.5 L251.0 73.7 L253.3 73.9 L255.6 74.2 L258.0 74.4 L260.4 74.6 L262.9 74.9 L265.4 75.2 L268.0 75.5 L270.6 75.8 L273.2 76.1 L275.9 76.4 L278.7 76.8 L281.5 77.2 L284.3 77.5 L287.2 77.9 L290.1 78.3 L293.1 78.7 L296.1 79.2 L299.2 79.6 L302.3 80.1 L305.4 80.6 L308.6 81.1 L311.9 81.6 L315.2 82.1 L318.5 82.6 L321.9 83.1 L325.3 83.7 L328.8 84.3 L332.3 84.9 L335.8 85.5 L339.4 86.1 L343.1 86.7 L346.8 87.4 L350.5 88.0 L354.3 88.7 L358.2 89.4 L362.0 90.1 L366.0 90.8 L369.9 91.5 L373.9 92.2" fill="none" stroke="#000" stroke-opacity="0.6" stroke-width="0.7"/>
<path d="M373.9 175.2 L370.3 173.7 L366.6 172.3 L363.0 170.8 L359.4 169.4 L355.9 167.9 L352.4 166.5 L349.0 165.1 L345.6 163.8 L342.2 162.4 L338.9 161.0 L335.6 159.7 L332.4 158.3 L329.2 157.0 L326.0 155.7 L322.9 154.4 L319.8 153.1 L316.8 151.9 L313.8 150.6 L310.9 149.4 L308.0 148.1 L305.1 146.9 L302.3 145.7 L299.5 144.5 L296.8 143.3 L294.1 142.2 L291.4 141.0 L288.8 139.9 L286.3 138.8 L283.7 137.6 L281.3 136.5 L278.8 135.4 L276.4 134.4 L274.1 133.3 L271.7 132.3 L269.5 131.2 L267.2 130.2 L265.0 129.2 L262.9 128.2 L260.8 127.2 L258.7 126.2 L256.7 125.3 L254.7 124.3 L252.8 123.4 L250.9 122.5 L249.0 121.5 L247.2 120.7 L245.4 119.8 L243.7 118.9 L242.0 118.0 L240.3 117.2 L238.7 116.4 L237.2 115.5 L235.7 114.7 L234.2 113.9 L232.7 113.2 L231.3 112.4 L230.0 111.6 L228.7 110.9 L227.4 110.2 L226.2 109.5 L225.0 108.8 L223.8 108.1 L222.7 107.4 L221.6 106.7 L220.6 106.1 L219.6 105.4 L218.7 104.8 L217.8 104.2 L216.9 103.6 L216.1 103.0 L215.4 102.4 L214.6 101.9 L213.9 101.3 L213.3 100.8 L212.7 100.3 L212.1 99.7 L211.6 99.2 L211.1 98.8 L210.7 98.3 L210.3 97.8 L209.9 97.4 L209.6 97.0 L209.4 96.5 L209.1 96.1 L208.9 95.7 L208.8 95.3 L208.7 95.0 L208.6 94.6 L208.6 94.3 L208.6 94.0 L208.7 93.6 L208.8 93.3 L208.9 93.0 L209.1 92.8 L209.4 92.5 L209.6 92.2 L209.9 92.0 L210.3 91.8 L210.7 91.6 L211.1 91.4 L211.6 91.2 L212.1 91.0 L212.7 90.8 L213.3 90.7 L213.9 90.5 L214.6 90.4 L215.4 90.3 L216.1 90.2 L216.9 90.1 L217.8 90.0 L218.7 90.0 L219.6 89.9 L220.6 89.9 L221.6 89.9 L222.7 89.9 L223.8 89.9 L225.0 89.9 L226.2 89.9 L227.4 90.0 L228.7 90.0 L230.0 90.1 L231.3 90.2 L232.7 90.3 L234.2 90.4 L235.7 90.5 L237.2 90.6 L238.7 90.8 L240.3 90.9 L242.0 91.1 L243.7 91.3 L245.4 91.5 L247.2 91.7 L249.0 91.9 L250.9 92.2 L252.8 92.4 L254.7 92.7 L256.7 92.9 L258.7 93.2 L260.8 93.5 L262.9 93.8 L265.0 94.2 L267.2 94.5 L269.5 94.9 L271.7 95.2 L274.1 95.6 L276.4 96.0 L278.8 96.4 L281.3 96.8 L283.7 97.2 L286.3 97.7 L288.8 98.1 L291.4 98.6 L294.1 99.1 L296.8 99.6 L299.5 100.1 L302.3 100.6 L305.1 101.1 L308.0 101.7 L310.9 102.2 L313.8 102.8 L316.8 103.4 L319.8 104.0 L322.9 104.6 L326.0 105.2 L329.2 105.8 L332.4 106.5 L335.6 107.2 L338.9 107.8 L342.2 108.5 L345.6 109.2 L349.0 109.9 L352.4 110.6 L355.9 111.4 L359.4 112.1 L363.0 112.9 L366.6 113.7 L370.3 114.5 L373.9 115.3" fill="none" stroke="#000" stroke-opacity="0.6" stroke-width="0.7"/>
<path d="M373.9 186.4 L369.2 184.1 L364.6 181.9 L360.0 179.7 L355.4 177.6 L350.9 175.4 L346.5 173.2 L342.1 171.1 L337.8 169.0 L333.5 166.9 L329.3 164.8 L325.1 162.8 L321.0 160.7 L316.9 158.7 L312.9 156.7 L308.9 154.7 L305.0 152.7 L301.2 150.7 L297.4 148.8 L293.6 146.9 L289.9 145.0 L286.3 143.1 L282.7 141.2 L279.1 139.3 L275.7 137.5 L272.2 135.6 L268.9 133.8 L265.5 132.0 L262.3 130.2 L259.0 128.5 L255.9 126.7 L252.8 125.0 L249.7 123.3 L246.7 121.6 L243.8 119.9 L240.9 118.2 L238.0 116.5 L235.2 114.9 L232.5 113.3 L229.8 111.7 L227.2 110.1 L224.6 108.5 L222.1 107.0 L219.6 105.4 L217.2 103.9 L214.8 102.4 L212.5 100.9 L210.2 99.5 L208.0 98.0 L205.9 96.6 L203.8 95.1 L201.7 93.7 L199.7 92.3 L197.8 91.0 L195.9 89.6 L194.1 88.3 L192.3 86.9 L190.5 85.6 L188.9 84.3 L187.2 83.1 L185.7 81.8 L184.2 80.6 L182.7 79.3 L181.3 78.1 L179.9 76.9 L178.6 75.8 L177.4 74.6 L176.2 73.5 L175.0 72.3 L174.0 71.2 L172.9 70.1 L171.9 69.0 L171.0 68.0 L170.1 66.9 L169.3 65.9 L168.5 64.9 L167.8 63.9 L167.1 62.9 L166.5 61.9 L166.0 61.0 L165.5 60.1 L165.0 59.2 L164.6 58.3 L164.3 57.4 L164.0 56.5 L163.7 55.7 L163.6 54.8 L163.4 54.0 L163.3 53.2 L163.3 52.4 L163.3 51.7 L163.4 50.9 L163.6 50.2 L163.7 49.5 L164.0 48.8 L164.3 48.1 L164.6 47.4 L165.0 46.7 L165.5 46.1 L166.0 45.5 L166.5 44.9 L167.1 44.3 L167.8 43.7 L168.5 43.2 L169.3 42.6 L170.1 42.1 L171.0 41.6 L171.9 41.1 L172.9 40.6 L174.0 40.2 L175.0 39.7 L176.2 39.3 L177.4 38.9 L178.6 38.5 L179.9 38.2 L181.3 37.8 L182.7 37.5 L184.2 37.1 L185.7 36.8 L187.2 36.5 L188.9 36.3 L190.5 36.0 L192.3 35.8 L194.1 35.5 L195.9 35.3 L197.8 35.1 L199.7 34.9 L201.7 34.8 L203.8 34.6 L205.9 34.5 L208.0 34.4 L210.2 34.3 L212.5 34.2 L214.8 34.2 L217.2 34.1 L219.6 34.1 L222.1 34.1 L224.6 34.1 L227.2 34.1 L229.8 34.1 L232.5 34.2 L235.2 34.2 L238.0 34.3 L240.9 34.4 L243.8 34.5 L246.7 34.7 L249.7 34.8 L252.8 35.0 L255.9 35.2 L259.0 35.4 L262.3 35.6 L265.5 35.8 L268.9 36.1 L272.2 36.3 L275.7 36.6 L279.1 36.9 L282.7 37.2 L286.3 37.6 L289.9 37.9 L293.6 38.3 L297.4 38.7 L301.2 39.1 L305.0 39.5 L308.9 39.9 L312.9 40.3 L316.9 40.8 L321.0 41.3 L325.1 41.8 L329.3 42.3 L333.5 42.8 L337.8 43.4 L342.1 43.9 L346.5 44.5 L350.9 45.1 L355.4 45.7 L360.0 46.3 L364.6 47.0 L369.2 47.6 L373.9 48.3" fill="none" stroke="#0000ff" stroke-width="2" stroke-linejoin="round"/>
<path d="M72.2 275.5 L78.7 276.1 L85.2 276.7 L91.6 277.2 L98.0 277.7 L104.2 278.3 L110.4 278.7 L116.5 279.2 L122.6 279.7 L128.6 280.1 L134.5 280.5 L140.3 280.9 L146.0 281.2 L151.7 281.5 L157.3 281.8 L162.8 282.1 L168.3 282.4 L173.7 282.6 L179.0 282.8 L184.2 283.0 L189.3 283.2 L194.4 283.3 L199.4 283.5 L204.4 283.6 L209.2 283.6 L214.0 283.7 L218.7 283.7 L223.3 283.7 L227.9 283.7 L232.4 283.7 L236.8 283.6 L241.1 283.5 L245.4 283.4 L249.6 283.3 L253.7 283.2 L257.8 283.0 L261.7 282.8 L265.6 282.6 L269.4 282.3 L273.2 282.1 L276.9 281.8 L280.5 281.5 L284.0 281.1 L287.4 280.8 L290.8 280.4 L294.1 280.0 L297.3 279.6 L300.5 279.1 L303.6 278.7 L306.6 278.2 L309.5 277.6 L312.4 277.1 L315.1 276.5 L317.8 276.0 L320.5 275.4 L323.0 274.7 L325.5 274.1 L327.9 273.4 L330.3 272.7 L332.5 272.0 L334.7 271.2 L336.8 270.5 L338.9 269.7 L340.8 268.9 L342.7 268.0 L344.5 267.2 L346.3 266.3 L348.0 265.4 L349.5 264.4 L351.1 263.5 L352.5 262.5 L353.9 261.5 L355.2 260.5 L356.4 259.5 L357.6 258.4 L358.6 257.3 L359.6 256.2 L360.6 255.1 L361.4 253.9 L362.2 252.7 L362.9 251.5 L363.5 250.3 L364.1 249.1 L364.6 247.8 L365.0 246.5 L365.3 245.2 L365.6 243.8 L365.8 242.5 L365.9 241.1 L365.9 239.7 L365.9 238.2 L365.8 236.8 L365.6 235.3 L365.3 233.8 L365.0 232.3 L364.6 230.8 L364.1 229.2 L363.5 227.6 L362.9 226.0 L362.2 224.3 L361.4 222.7 L360.6 221.0 L359.6 219.3 L358.6 217.6 L357.6 215.8 L356.4 214.0 L355.2 212.3 L353.9 210.4 L352.5 208.6 L351.1 206.7 L349.5 204.8 L348.0 202.9 L346.3 201.0 L344.5 199.0 L342.7 197.1 L340.8 195.1 L338.9 193.0 L336.8 191.0 L334.7 188.9 L332.5 186.8 L330.3 184.7 L327.9 182.6 L325.5 180.4 L323.0 178.2 L320.5 176.0 L317.8 173.8 L315.1 171.5 L312.4 169.3 L309.5 167.0 L306.6 164.6 L303.6 162.3 L300.5 159.9 L297.3 157.5 L294.1 155.1 L290.8 152.7 L287.4 150.2 L284.0 147.7 L280.5 145.2 L276.9 142.7 L273.2 140.2 L269.4 137.6 L265.6 135.0 L261.7 132.4 L257.8 129.7 L253.7 127.1 L249.6 124.4 L245.4 121.7 L241.1 118.9 L236.8 116.2 L232.4 113.4 L227.9 110.6 L223.3 107.8 L218.7 104.9 L214.0 102.1 L209.2 99.2 L204.4 96.2 L199.4 93.3 L194.4 90.3 L189.3 87.4 L184.2 84.4 L179.0 81.3 L173.7 78.3 L168.3 75.2 L162.8 72.1 L157.3 69.0 L151.7 65.8 L146.0 62.7 L140.3 59.5 L134.5 56.3 L128.6 53.0 L122.6 49.8 L116.5 46.5 L110.4 43.2 L104.2 39.9 L98.0 36.5 L91.6 33.1 L85.2 29.7 L78.7 26.3 L72.2 22.9" fill="none" stroke="#ff0000" stroke-width="2" stroke-linejoin="round"/>
<path d="M72.2 96.6 L75.8 97.4 L79.4 98.2 L83.0 99.0 L86.5 99.8 L90.0 100.5 L93.4 101.3 L96.8 102.0 L100.2 102.7 L103.5 103.5 L106.8 104.2 L110.0 104.8 L113.2 105.5 L116.4 106.2 L119.5 106.8 L122.5 107.4 L125.6 108.1 L128.6 108.7 L131.5 109.3 L134.4 109.9 L137.3 110.4 L140.1 111.0 L142.9 111.5 L145.6 112.1 L148.3 112.6 L151.0 113.1 L153.6 113.6 L156.2 114.1 L158.7 114.5 L161.2 115.0 L163.7 115.4 L166.1 115.9 L168.4 116.3 L170.8 116.7 L173.1 117.1 L175.3 117.4 L177.5 117.8 L179.7 118.2 L181.8 118.5 L183.9 118.8 L185.9 119.2 L187.9 119.5 L189.9 119.7 L191.8 120.0 L193.7 120.3 L195.5 120.5 L197.3 120.8 L199.1 121.0 L200.8 121.2 L202.4 121.4 L204.1 121.6 L205.7 121.8 L207.2 122.0 L208.7 122.1 L210.2 122.2 L211.6 122.4 L213.0 122.5 L214.3 122.6 L215.6 122.7 L216.9 122.7 L218.1 122.8 L219.3 122.8 L220.4 122.9 L221.5 122.9 L222.5 122.9 L223.5 122.9 L224.5 122.9 L225.4 122.9 L226.3 122.8 L227.2 122.8 L228.0 122.7 L228.7 122.6 L229.5 122.6 L230.1 122.4 L230.8 122.3 L231.4 122.2 L231.9 122.1 L232.4 121.9 L232.9 121.7 L233.4 121.6 L233.7 121.4 L234.1 121.2 L234.4 120.9 L234.7 120.7 L234.9 120.5 L235.1 120.2 L235.2 119.9 L235.3 119.7 L235.4 119.4 L235.4 119.1 L235.4 118.7 L235.3 118.4 L235.2 118.1 L235.1 117.7 L234.9 117.3 L234.7 117.0 L234.4 116.6 L234.1 116.2 L233.7 115.7 L233.4 115.3 L232.9 114.9 L232.4 114.4 L231.9 113.9 L231.4 113.4 L230.8 112.9 L230.1 112.4 L229.5 111.9 L228.7 111.4 L228.0 110.8 L227.2 110.3 L226.3 109.7 L225.4 109.1 L224.5 108.5 L223.5 107.9 L222.5 107.3 L221.5 106.6 L220.4 106.0 L219.3 105.3 L218.1 104.6 L216.9 104.0 L215.6 103.3 L214.3 102.5 L213.0 101.8 L211.6 101.1 L210.2 100.3 L208.7 99.6 L207.2 98.8 L205.7 98.0 L204.1 97.2 L202.4 96.4 L200.8 95.6 L199.1 94.7 L197.3 93.9 L195.5 93.0 L193.7 92.1 L191.8 91.2 L189.9 90.3 L187.9 89.4 L185.9 88.5 L183.9 87.5 L181.8 86.6 L179.7 85.6 L177.5 84.6 L175.3 83.6 L173.1 82.6 L170.8 81.6 L168.4 80.6 L166.1 79.6 L163.7 78.5 L161.2 77.4 L158.7 76.3 L156.2 75.3 L153.6 74.1 L151.0 73.0 L148.3 71.9 L145.6 70.7 L142.9 69.6 L140.1 68.4 L137.3 67.2 L134.4 66.0 L131.5 64.8 L128.6 63.6 L125.6 62.4 L122.5 61.1 L119.5 59.9 L116.4 58.6 L113.2 57.3 L110.0 56.0 L106.8 54.7 L103.5 53.4 L100.2 52.1 L96.8 50.7 L93.4 49.3 L90.0 48.0 L86.5 46.6 L83.0 45.2 L79.4 43.8 L75.8 42.3 L72.2 40.9" fill="none" stroke="#0cf50c" stroke-width="2" stroke-dasharray="5.8 2.8"/>
<path d="M108.0 -0.3 L116.0 7.4 L124.0 15.1 L132.0 22.7 L140.0 30.3 L148.0 37.9 L156.0 45.5 L164.0 53.1 L172.0 60.7 L180.0 68.2 L188.0 75.7 L196.0 83.2 L204.0 90.7 L212.0 98.2 L220.0 105.6 L228.0 113.1 L236.0 120.5 L244.0 127.9 L252.0 135.3 L260.0 142.6 L268.0 150.0 L276.0 157.3 L284.0 164.6 L292.0 171.9 L300.0 179.2 L308.0 186.4 L316.0 193.6 L324.0 200.9 L332.0 208.1 L340.0 215.2 L348.0 222.4 L356.0 229.6 L364.0 236.7 L372.0 243.8 L380.0 250.9" stroke="#000" stroke-width="3.5" fill="none"/>
</g>
<rect x="74.3" y="8.2" width="297.5" height="297.8" fill="none" stroke="#000" stroke-width="2"/>
<path d="M79.90 306.0 v-4.6 M79.90 8.2 v4.6 M94.20 306.0 v-2.7 M94.20 8.2 v2.7 M108.50 306.0 v-2.7 M108.50 8.2 v2.7 M122.80 306.0 v-2.7 M122.80 8.2 v2.7 M137.10 306.0 v-2.7 M137.10 8.2 v2.7 M151.40 306.0 v-4.6 M151.40 8.2 v4.6 M165.70 306.0 v-2.7 M165.70 8.2 v2.7 M180.00 306.0 v-2.7 M180.00 8.2 v2.7 M194.30 306.0 v-2.7 M194.30 8.2 v2.7 M208.60 306.0 v-2.7 M208.60 8.2 v2.7 M222.90 306.0 v-4.6 M222.90 8.2 v4.6 M237.20 306.0 v-2.7 M237.20 8.2 v2.7 M251.50 306.0 v-2.7 M251.50 8.2 v2.7 M265.80 306.0 v-2.7 M265.80 8.2 v2.7 M280.10 306.0 v-2.7 M280.10 8.2 v2.7 M294.40 306.0 v-4.6 M294.40 8.2 v4.6 M308.70 306.0 v-2.7 M308.70 8.2 v2.7 M323.00 306.0 v-2.7 M323.00 8.2 v2.7 M337.30 306.0 v-2.7 M337.30 8.2 v2.7 M351.60 306.0 v-2.7 M351.60 8.2 v2.7 M365.90 306.0 v-4.6 M365.90 8.2 v4.6 M74.3 294.75 h3.0 M371.8 294.75 h-3.0 M74.3 283.74 h4.8 M371.8 283.74 h-4.8 M74.3 272.73 h3.0 M371.8 272.73 h-3.0 M74.3 261.71 h3.0 M371.8 261.71 h-3.0 M74.3 250.70 h3.0 M371.8 250.70 h-3.0 M74.3 239.68 h4.8 M371.8 239.68 h-4.8 M74.3 228.67 h3.0 M371.8 228.67 h-3.0 M74.3 217.65 h3.0 M371.8 217.65 h-3.0 M74.3 206.63 h3.0 M371.8 206.63 h-3.0 M74.3 195.62 h4.8 M371.8 195.62 h-4.8 M74.3 184.61 h3.0 M371.8 184.61 h-3.0 M74.3 173.59 h3.0 M371.8 173.59 h-3.0 M74.3 162.57 h3.0 M371.8 162.57 h-3.0 M74.3 151.56 h4.8 M371.8 151.56 h-4.8 M74.3 140.55 h3.0 M371.8 140.55 h-3.0 M74.3 129.53 h3.0 M371.8 129.53 h-3.0 M74.3 118.52 h3.0 M371.8 118.52 h-3.0 M74.3 107.50 h4.8 M371.8 107.50 h-4.8 M74.3 96.48 h3.0 M371.8 96.48 h-3.0 M74.3 85.47 h3.0 M371.8 85.47 h-3.0 M74.3 74.45 h3.0 M371.8 74.45 h-3.0 M74.3 63.44 h4.8 M371.8 63.44 h-4.8 M74.3 52.42 h3.0 M371.8 52.42 h-3.0 M74.3 41.41 h3.0 M371.8 41.41 h-3.0 M74.3 30.39 h3.0 M371.8 30.39 h-3.0 M74.3 19.38 h4.8 M371.8 19.38 h-4.8" stroke="#000" stroke-width="1.7" fill="none"/>
<text x="79.4" y="324.9" font-size="15.7" letter-spacing="0.4" text-anchor="middle">−<tspan dx="2.9">0.2</tspan></text>
<text x="150.9" y="324.9" font-size="15.7" letter-spacing="0.4" text-anchor="middle">−<tspan dx="2.9">0.1</tspan></text>
<text x="223.1" y="324.9" font-size="15.7" letter-spacing="0.4" text-anchor="middle">0.0</text>
<text x="294.6" y="324.9" font-size="15.7" letter-spacing="0.4" text-anchor="middle">0.1</text>
<text x="366.1" y="324.9" font-size="15.7" letter-spacing="0.4" text-anchor="middle">0.2</text>
<text x="71.0" y="289.3" font-size="15.7" letter-spacing="0.4" text-anchor="end">−<tspan dx="2.4">0.8</tspan></text>
<text x="71.0" y="245.3" font-size="15.7" letter-spacing="0.4" text-anchor="end">−<tspan dx="2.4">0.6</tspan></text>
<text x="71.0" y="201.2" font-size="15.7" letter-spacing="0.4" text-anchor="end">−<tspan dx="2.4">0.4</tspan></text>
<text x="71.0" y="157.2" font-size="15.7" letter-spacing="0.4" text-anchor="end">−<tspan dx="2.4">0.2</tspan></text>
<text x="71.0" y="113.1" font-size="15.7" letter-spacing="0.4" text-anchor="end">0.0</text>
<text x="71.0" y="69.0" font-size="15.7" letter-spacing="0.4" text-anchor="end">0.2</text>
<text x="71.0" y="25.0" font-size="15.7" letter-spacing="0.4" text-anchor="end">0.4</text>
<text x="212" y="358" font-size="22" font-style="italic">β<tspan font-size="16" font-style="normal" dy="5" dx="0.5">1</tspan></text>
<text transform="translate(22.1,169.8) rotate(-90) scale(1.15,1)" font-size="22" font-style="italic">α<tspan font-size="16" dy="3.4" dx="-0.5">H</tspan></text>
<text x="267" y="28.1" stroke="#0000ff" stroke-width="0.25" font-size="17.5" font-family="'Liberation Serif',serif" fill="#0000ff"><tspan font-style="italic">γ</tspan><tspan font-size="12.5" dy="2.8">1</tspan><tspan dy="-2.8">&gt;−1/6</tspan></text>
<text x="129" y="298.6" stroke="#ff0000" stroke-width="0.25" font-size="17.5" font-family="'Liberation Serif',serif" fill="#ff0000" font-style="italic">γ<tspan font-size="12.5" dy="2.8" font-style="normal">1</tspan><tspan dy="-2.8">&lt;0.4</tspan></text>
<text transform="translate(122.5,75.6) rotate(25.2)" stroke="#0cf50c" stroke-width="0.2" font-size="16.7" font-family="'Liberation Serif',serif" fill="#0cf50c" font-style="italic">γ<tspan font-size="12.5" dy="2.8" font-style="normal">1</tspan><tspan dy="-2.8">&lt;0.035</tspan></text>
<text transform="translate(231.8,140.2) rotate(42.8)" font-size="17" font-weight="bold" fill="#000">Hulse–Taylor Pulsar</text>
<rect x="397.4" y="33.90" width="15.0" height="19.47" fill="rgb(255,198,198)"/>
<rect x="397.4" y="53.07" width="15.0" height="19.47" fill="rgb(255,176,176)"/>
<rect x="397.4" y="72.24" width="15.0" height="19.47" fill="rgb(255,154,154)"/>
<rect x="397.4" y="91.41" width="15.0" height="19.47" fill="rgb(255,132,132)"/>
<rect x="397.4" y="110.58" width="15.0" height="19.47" fill="rgb(255,110,110)"/>
<rect x="397.4" y="129.75" width="15.0" height="19.47" fill="rgb(255,88,88)"/>
<rect x="397.4" y="148.92" width="15.0" height="19.47" fill="rgb(255,66,66)"/>
<rect x="397.4" y="168.09" width="15.0" height="19.47" fill="rgb(255,44,44)"/>
<rect x="397.4" y="187.26" width="15.0" height="19.47" fill="rgb(255,22,22)"/>
<rect x="397.4" y="206.43" width="15.0" height="19.47" fill="rgb(255,0,0)"/>
<rect x="397.4" y="225.60" width="15.0" height="19.47" fill="rgb(255,0,0)"/>
<rect x="397.4" y="244.77" width="15.0" height="19.47" fill="rgb(0,0,255)"/>
<rect x="397.4" y="263.94" width="15.0" height="19.47" fill="rgb(34,34,255)"/>
<rect x="397.4" y="283.11" width="15.0" height="19.47" fill="rgb(68,68,255)"/>
<rect x="397.4" y="302.28" width="15.0" height="19.47" fill="rgb(102,102,255)"/>
<rect x="397.4" y="321.45" width="15.0" height="19.47" fill="rgb(136,136,255)"/>
<path d="M397.4 33.90 H412.4 M397.4 53.07 H412.4 M397.4 72.24 H412.4 M397.4 91.41 H412.4 M397.4 110.58 H412.4 M397.4 129.75 H412.4 M397.4 148.92 H412.4 M397.4 168.09 H412.4 M397.4 187.26 H412.4 M397.4 206.43 H412.4 M397.4 225.60 H412.4 M397.4 244.77 H412.4 M397.4 263.94 H412.4 M397.4 283.11 H412.4 M397.4 302.28 H412.4 M397.4 321.45 H412.4" stroke="#000" stroke-opacity="0.5" stroke-width="0.6" fill="none"/>
<text x="419.6" y="58.3" font-size="14.7" font-weight="bold" fill="#5a5a5a">0.36</text>
<text x="419.6" y="96.6" font-size="14.7" font-weight="bold" fill="#5a5a5a">0.28</text>
<text x="419.6" y="134.9" font-size="14.7" font-weight="bold" fill="#5a5a5a">0.20</text>
<text x="419.6" y="173.3" font-size="14.7" font-weight="bold" fill="#5a5a5a">0.12</text>
<text x="419.6" y="211.6" font-size="14.7" font-weight="bold" fill="#5a5a5a">0.04</text>
<text x="419.6" y="250.0" font-size="14.7" font-weight="bold" fill="#5a5a5a">0</text>
<text x="419.6" y="288.3" font-size="14.7" font-weight="bold" fill="#5a5a5a">−0.08</text>
<text x="419.6" y="326.6" font-size="14.7" font-weight="bold" fill="#5a5a5a">−0.16</text>
<path d="M412.4 53.07 h4 M412.4 91.41 h4 M412.4 129.75 h4 M412.4 168.09 h4 M412.4 206.43 h4 M412.4 244.77 h4 M412.4 283.11 h4 M412.4 321.45 h4" stroke="#c8c8c8" stroke-width="0.7" fill="none"/>
<text x="419.2" y="18.3" font-size="13.5" font-weight="bold" font-style="italic" fill="#000">γ<tspan font-size="10.5" font-style="normal" dy="2.1" dx="0.3">1</tspan></text>
</svg>
</body></html>
